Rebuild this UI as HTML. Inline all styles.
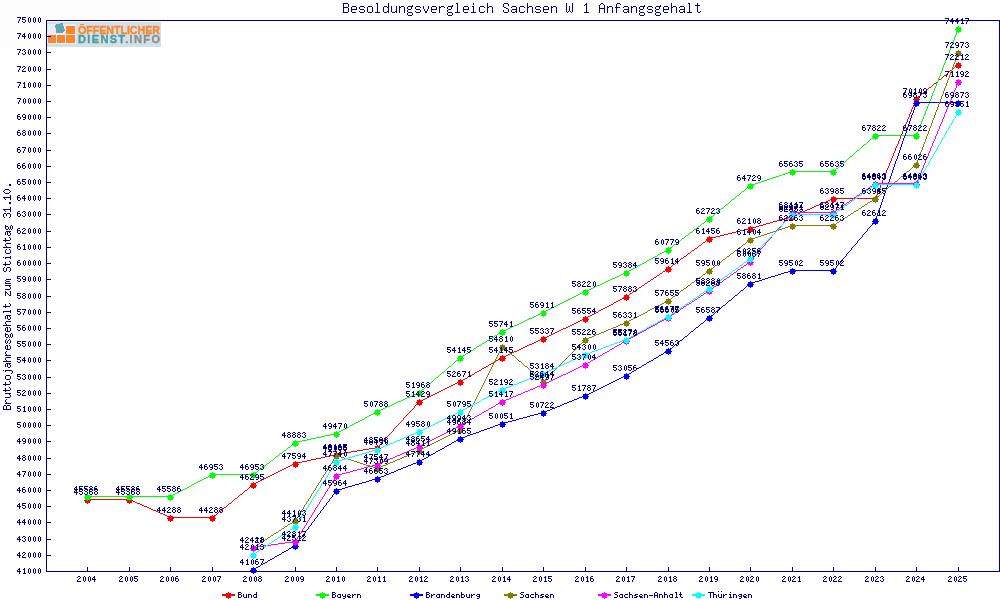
<!DOCTYPE html>
<html><head><meta charset="utf-8"><title>Besoldungsvergleich Sachsen W 1 Anfangsgehalt</title>
<style>html,body{margin:0;padding:0;background:#fff;width:1000px;height:600px;overflow:hidden}svg{display:block;will-change:transform}</style>
</head><body><svg width="1000" height="600" viewBox="0 0 1000 600" shape-rendering="crispEdges"><defs><path id="g0" d="M2 1h1v1h-1zM1 2h1v1h-1zM3 2h1v1h-1zM1 3h1v1h-1zM3 3h1v1h-1zM1 4h1v1h-1zM3 4h1v1h-1zM1 5h1v1h-1zM3 5h1v1h-1zM2 6h1v1h-1z"/><path id="g1" d="M2 1h1v1h-1zM1 2h2v1h-2zM2 3h1v1h-1zM2 4h1v1h-1zM2 5h1v1h-1zM1 6h3v1h-3z"/><path id="g2" d="M1 1h2v1h-2zM0 2h1v1h-1zM3 2h1v1h-1zM2 3h1v1h-1zM1 4h1v1h-1zM0 5h1v1h-1zM0 6h4v1h-4z"/><path id="g3" d="M1 1h2v1h-2zM0 2h1v1h-1zM3 2h1v1h-1zM2 3h1v1h-1zM3 4h1v1h-1zM0 5h1v1h-1zM3 5h1v1h-1zM1 6h2v1h-2z"/><path id="g4" d="M2 1h1v1h-1zM1 2h2v1h-2zM0 3h1v1h-1zM2 3h1v1h-1zM0 4h4v1h-4zM2 5h1v1h-1zM2 6h1v1h-1z"/><path id="g5" d="M0 1h4v1h-4zM0 2h1v1h-1zM0 3h3v1h-3zM3 4h1v1h-1zM0 5h1v1h-1zM3 5h1v1h-1zM1 6h2v1h-2z"/><path id="g6" d="M1 1h2v1h-2zM0 2h1v1h-1zM0 3h3v1h-3zM0 4h1v1h-1zM3 4h1v1h-1zM0 5h1v1h-1zM3 5h1v1h-1zM1 6h2v1h-2z"/><path id="g7" d="M0 1h4v1h-4zM3 2h1v1h-1zM2 3h1v1h-1zM2 4h1v1h-1zM1 5h1v1h-1zM1 6h1v1h-1z"/><path id="g8" d="M1 1h2v1h-2zM0 2h1v1h-1zM3 2h1v1h-1zM1 3h2v1h-2zM0 4h1v1h-1zM3 4h1v1h-1zM0 5h1v1h-1zM3 5h1v1h-1zM1 6h2v1h-2z"/><path id="g9" d="M1 1h2v1h-2zM0 2h1v1h-1zM3 2h1v1h-1zM0 3h1v1h-1zM3 3h1v1h-1zM1 4h3v1h-3zM3 5h1v1h-1zM1 6h2v1h-2z"/><path id="g10" d="M0 1h3v1h-3zM0 2h1v1h-1zM3 2h1v1h-1zM0 3h3v1h-3zM0 4h1v1h-1zM3 4h1v1h-1zM0 5h1v1h-1zM3 5h1v1h-1zM0 6h3v1h-3z"/><path id="g11" d="M1 1h3v1h-3zM0 2h1v1h-1zM1 3h2v1h-2zM3 4h1v1h-1zM3 5h1v1h-1zM0 6h3v1h-3z"/><path id="g12" d="M1 1h2v1h-2zM0 2h1v1h-1zM3 2h1v1h-1zM0 3h1v1h-1zM3 3h1v1h-1zM0 4h4v1h-4zM0 5h1v1h-1zM3 5h1v1h-1zM0 6h1v1h-1zM3 6h1v1h-1z"/><path id="g13" d="M0 1h5v1h-5zM2 2h1v1h-1zM2 3h1v1h-1zM2 4h1v1h-1zM2 5h1v1h-1zM2 6h1v1h-1z"/><path id="g14" d="M0 3h1v1h-1zM3 3h1v1h-1zM0 4h1v1h-1zM3 4h1v1h-1zM0 5h1v1h-1zM3 5h1v1h-1zM1 6h3v1h-3z"/><path id="g15" d="M0 3h3v1h-3zM0 4h1v1h-1zM3 4h1v1h-1zM0 5h1v1h-1zM3 5h1v1h-1zM0 6h1v1h-1zM3 6h1v1h-1z"/><path id="g16" d="M3 1h1v1h-1zM3 2h1v1h-1zM1 3h3v1h-3zM0 4h1v1h-1zM3 4h1v1h-1zM0 5h1v1h-1zM3 5h1v1h-1zM1 6h3v1h-3z"/><path id="g17" d="M1 3h3v1h-3zM0 4h1v1h-1zM3 4h1v1h-1zM0 5h1v1h-1zM3 5h1v1h-1zM1 6h3v1h-3z"/><path id="g18" d="M0 3h1v1h-1zM3 3h1v1h-1zM0 4h1v1h-1zM3 4h1v1h-1zM1 5h3v1h-3zM3 6h1v1h-1zM1 7h2v1h-2z"/><path id="g19" d="M1 3h2v1h-2zM0 4h1v1h-1zM3 4h1v1h-1zM0 5h3v1h-3zM1 6h3v1h-3z"/><path id="g20" d="M0 3h1v1h-1zM2 3h2v1h-2zM0 4h2v1h-2zM0 5h1v1h-1zM0 6h1v1h-1z"/><path id="g21" d="M0 1h1v1h-1zM0 2h1v1h-1zM0 3h3v1h-3zM0 4h1v1h-1zM3 4h1v1h-1zM0 5h1v1h-1zM3 5h1v1h-1zM0 6h3v1h-3z"/><path id="g22" d="M1 3h3v1h-3zM0 4h1v1h-1zM3 4h1v1h-1zM1 5h3v1h-3zM3 6h1v1h-1zM1 7h2v1h-2z"/><path id="g23" d="M1 3h3v1h-3zM0 4h1v1h-1zM0 5h1v1h-1zM1 6h3v1h-3z"/><path id="g24" d="M0 1h1v1h-1zM0 2h1v1h-1zM0 3h3v1h-3zM0 4h1v1h-1zM3 4h1v1h-1zM0 5h1v1h-1zM3 5h1v1h-1zM0 6h1v1h-1zM3 6h1v1h-1z"/><path id="g25" d="M1 3h3v1h-3zM0 4h2v1h-2zM2 5h2v1h-2zM0 6h3v1h-3z"/><path id="g26" d="M0 4h4v1h-4z"/><path id="g27" d="M1 1h2v1h-2zM2 2h1v1h-1zM2 3h1v1h-1zM2 4h1v1h-1zM2 5h1v1h-1zM1 6h3v1h-3z"/><path id="g28" d="M1 1h1v1h-1zM1 2h1v1h-1zM0 3h3v1h-3zM1 4h1v1h-1zM1 5h1v1h-1zM2 6h2v1h-2z"/><path id="g29" d="M0 0h1v1h-1zM3 0h1v1h-1zM0 3h1v1h-1zM3 3h1v1h-1zM0 4h1v1h-1zM3 4h1v1h-1zM0 5h1v1h-1zM3 5h1v1h-1zM1 6h3v1h-3z"/><path id="g30" d="M2 1h1v1h-1zM1 3h2v1h-2zM2 4h1v1h-1zM2 5h1v1h-1zM1 6h3v1h-3z"/><path id="mk" d="M-3 0h7v1h-7zM-2 -2h5v2h-5zM-2 1h5v2h-5zM0 -3h1v1h-1zM0 3h1v1h-1z"/></defs><rect x="0" y="0" width="161" height="47" fill="#fcfdfc"/><rect x="47" y="22" width="114" height="25" fill="#d3e0e6"/><rect x="47" y="24" width="29" height="20" fill="#e6eef1"/><rect x="48" y="35" width="8" height="8" fill="#f7862e"/><rect x="57" y="35" width="8" height="8" fill="#f7862e"/><rect x="66" y="35" width="9" height="8" fill="#f7862e"/><rect x="66" y="26" width="9" height="8" fill="#f7862e"/><path d="M55 24.6 L59 23.9 L62.8 22.8 L63.6 26.5 L64.9 30.6 L63.8 32.3 L60 33 L56.6 33.1 L56.1 29.5 L55 27.6Z" fill="#62a7af"/><g transform="translate(78,34) scale(0.966,1)"><text x="0" y="0" style="font-family:Liberation Sans;font-weight:bold;font-size:11px" fill="#f7862e" stroke="#f7862e" stroke-width="0.35">OFFENTLICHER</text></g><rect x="80" y="24" width="4" height="1" fill="#f7862e"/><g transform="translate(78,43)"><text x="0" y="0" style="font-family:Liberation Sans;font-weight:bold;font-size:11px;letter-spacing:1.35px" stroke-width="0.35"><tspan fill="#4d9aa2" stroke="#4d9aa2">DIENST</tspan><tspan fill="#8b8e92" stroke="#8b8e92">.INFO</tspan></text></g><path d="M46 20h954v1h-954z" fill="#000080"/><path d="M46 571h954v1h-954z" fill="#000080"/><path d="M46 20h1v552h-1z" fill="#000080"/><path d="M999 20h1v552h-1z" fill="#000080"/><path d="M47 571h4v1h-4zM47 555h4v1h-4zM47 539h4v1h-4zM47 522h4v1h-4zM47 506h4v1h-4zM47 490h4v1h-4zM47 474h4v1h-4zM47 458h4v1h-4zM47 441h4v1h-4zM47 425h4v1h-4zM47 409h4v1h-4zM47 393h4v1h-4zM47 377h4v1h-4zM47 360h4v1h-4zM47 344h4v1h-4zM47 328h4v1h-4zM47 312h4v1h-4zM47 296h4v1h-4zM47 279h4v1h-4zM47 263h4v1h-4zM47 247h4v1h-4zM47 231h4v1h-4zM47 214h4v1h-4zM47 198h4v1h-4zM47 182h4v1h-4zM47 166h4v1h-4zM47 150h4v1h-4zM47 133h4v1h-4zM47 117h4v1h-4zM47 101h4v1h-4zM47 85h4v1h-4zM47 69h4v1h-4zM47 52h4v1h-4zM47 36h4v1h-4zM47 20h4v1h-4zM87 567h1v4h-1zM129 567h1v4h-1zM170 567h1v4h-1zM212 567h1v4h-1zM253 567h1v4h-1zM295 567h1v4h-1zM336 567h1v4h-1zM377 567h1v4h-1zM419 567h1v4h-1zM460 567h1v4h-1zM502 567h1v4h-1zM543 567h1v4h-1zM585 567h1v4h-1zM626 567h1v4h-1zM668 567h1v4h-1zM709 567h1v4h-1zM750 567h1v4h-1zM792 567h1v4h-1zM833 567h1v4h-1zM875 567h1v4h-1zM916 567h1v4h-1zM958 567h1v4h-1z" fill="#000080"/><g fill="#000080"><use href="#g4" x="17" y="567"/><use href="#g1" x="22" y="567"/><use href="#g0" x="27" y="567"/><use href="#g0" x="32" y="567"/><use href="#g0" x="37" y="567"/><use href="#g4" x="17" y="551"/><use href="#g2" x="22" y="551"/><use href="#g0" x="27" y="551"/><use href="#g0" x="32" y="551"/><use href="#g0" x="37" y="551"/><use href="#g4" x="17" y="535"/><use href="#g3" x="22" y="535"/><use href="#g0" x="27" y="535"/><use href="#g0" x="32" y="535"/><use href="#g0" x="37" y="535"/><use href="#g4" x="17" y="518"/><use href="#g4" x="22" y="518"/><use href="#g0" x="27" y="518"/><use href="#g0" x="32" y="518"/><use href="#g0" x="37" y="518"/><use href="#g4" x="17" y="502"/><use href="#g5" x="22" y="502"/><use href="#g0" x="27" y="502"/><use href="#g0" x="32" y="502"/><use href="#g0" x="37" y="502"/><use href="#g4" x="17" y="486"/><use href="#g6" x="22" y="486"/><use href="#g0" x="27" y="486"/><use href="#g0" x="32" y="486"/><use href="#g0" x="37" y="486"/><use href="#g4" x="17" y="470"/><use href="#g7" x="22" y="470"/><use href="#g0" x="27" y="470"/><use href="#g0" x="32" y="470"/><use href="#g0" x="37" y="470"/><use href="#g4" x="17" y="454"/><use href="#g8" x="22" y="454"/><use href="#g0" x="27" y="454"/><use href="#g0" x="32" y="454"/><use href="#g0" x="37" y="454"/><use href="#g4" x="17" y="437"/><use href="#g9" x="22" y="437"/><use href="#g0" x="27" y="437"/><use href="#g0" x="32" y="437"/><use href="#g0" x="37" y="437"/><use href="#g5" x="17" y="421"/><use href="#g0" x="22" y="421"/><use href="#g0" x="27" y="421"/><use href="#g0" x="32" y="421"/><use href="#g0" x="37" y="421"/><use href="#g5" x="17" y="405"/><use href="#g1" x="22" y="405"/><use href="#g0" x="27" y="405"/><use href="#g0" x="32" y="405"/><use href="#g0" x="37" y="405"/><use href="#g5" x="17" y="389"/><use href="#g2" x="22" y="389"/><use href="#g0" x="27" y="389"/><use href="#g0" x="32" y="389"/><use href="#g0" x="37" y="389"/><use href="#g5" x="17" y="373"/><use href="#g3" x="22" y="373"/><use href="#g0" x="27" y="373"/><use href="#g0" x="32" y="373"/><use href="#g0" x="37" y="373"/><use href="#g5" x="17" y="356"/><use href="#g4" x="22" y="356"/><use href="#g0" x="27" y="356"/><use href="#g0" x="32" y="356"/><use href="#g0" x="37" y="356"/><use href="#g5" x="17" y="340"/><use href="#g5" x="22" y="340"/><use href="#g0" x="27" y="340"/><use href="#g0" x="32" y="340"/><use href="#g0" x="37" y="340"/><use href="#g5" x="17" y="324"/><use href="#g6" x="22" y="324"/><use href="#g0" x="27" y="324"/><use href="#g0" x="32" y="324"/><use href="#g0" x="37" y="324"/><use href="#g5" x="17" y="308"/><use href="#g7" x="22" y="308"/><use href="#g0" x="27" y="308"/><use href="#g0" x="32" y="308"/><use href="#g0" x="37" y="308"/><use href="#g5" x="17" y="292"/><use href="#g8" x="22" y="292"/><use href="#g0" x="27" y="292"/><use href="#g0" x="32" y="292"/><use href="#g0" x="37" y="292"/><use href="#g5" x="17" y="275"/><use href="#g9" x="22" y="275"/><use href="#g0" x="27" y="275"/><use href="#g0" x="32" y="275"/><use href="#g0" x="37" y="275"/><use href="#g6" x="17" y="259"/><use href="#g0" x="22" y="259"/><use href="#g0" x="27" y="259"/><use href="#g0" x="32" y="259"/><use href="#g0" x="37" y="259"/><use href="#g6" x="17" y="243"/><use href="#g1" x="22" y="243"/><use href="#g0" x="27" y="243"/><use href="#g0" x="32" y="243"/><use href="#g0" x="37" y="243"/><use href="#g6" x="17" y="227"/><use href="#g2" x="22" y="227"/><use href="#g0" x="27" y="227"/><use href="#g0" x="32" y="227"/><use href="#g0" x="37" y="227"/><use href="#g6" x="17" y="210"/><use href="#g3" x="22" y="210"/><use href="#g0" x="27" y="210"/><use href="#g0" x="32" y="210"/><use href="#g0" x="37" y="210"/><use href="#g6" x="17" y="194"/><use href="#g4" x="22" y="194"/><use href="#g0" x="27" y="194"/><use href="#g0" x="32" y="194"/><use href="#g0" x="37" y="194"/><use href="#g6" x="17" y="178"/><use href="#g5" x="22" y="178"/><use href="#g0" x="27" y="178"/><use href="#g0" x="32" y="178"/><use href="#g0" x="37" y="178"/><use href="#g6" x="17" y="162"/><use href="#g6" x="22" y="162"/><use href="#g0" x="27" y="162"/><use href="#g0" x="32" y="162"/><use href="#g0" x="37" y="162"/><use href="#g6" x="17" y="146"/><use href="#g7" x="22" y="146"/><use href="#g0" x="27" y="146"/><use href="#g0" x="32" y="146"/><use href="#g0" x="37" y="146"/><use href="#g6" x="17" y="129"/><use href="#g8" x="22" y="129"/><use href="#g0" x="27" y="129"/><use href="#g0" x="32" y="129"/><use href="#g0" x="37" y="129"/><use href="#g6" x="17" y="113"/><use href="#g9" x="22" y="113"/><use href="#g0" x="27" y="113"/><use href="#g0" x="32" y="113"/><use href="#g0" x="37" y="113"/><use href="#g7" x="17" y="97"/><use href="#g0" x="22" y="97"/><use href="#g0" x="27" y="97"/><use href="#g0" x="32" y="97"/><use href="#g0" x="37" y="97"/><use href="#g7" x="17" y="81"/><use href="#g1" x="22" y="81"/><use href="#g0" x="27" y="81"/><use href="#g0" x="32" y="81"/><use href="#g0" x="37" y="81"/><use href="#g7" x="17" y="65"/><use href="#g2" x="22" y="65"/><use href="#g0" x="27" y="65"/><use href="#g0" x="32" y="65"/><use href="#g0" x="37" y="65"/><use href="#g7" x="17" y="48"/><use href="#g3" x="22" y="48"/><use href="#g0" x="27" y="48"/><use href="#g0" x="32" y="48"/><use href="#g0" x="37" y="48"/><use href="#g7" x="17" y="32"/><use href="#g4" x="22" y="32"/><use href="#g0" x="27" y="32"/><use href="#g0" x="32" y="32"/><use href="#g0" x="37" y="32"/><use href="#g7" x="17" y="16"/><use href="#g5" x="22" y="16"/><use href="#g0" x="27" y="16"/><use href="#g0" x="32" y="16"/><use href="#g0" x="37" y="16"/><use href="#g2" x="77" y="575"/><use href="#g0" x="82" y="575"/><use href="#g0" x="87" y="575"/><use href="#g4" x="92" y="575"/><use href="#g2" x="119" y="575"/><use href="#g0" x="124" y="575"/><use href="#g0" x="129" y="575"/><use href="#g5" x="134" y="575"/><use href="#g2" x="160" y="575"/><use href="#g0" x="165" y="575"/><use href="#g0" x="170" y="575"/><use href="#g6" x="175" y="575"/><use href="#g2" x="202" y="575"/><use href="#g0" x="207" y="575"/><use href="#g0" x="212" y="575"/><use href="#g7" x="217" y="575"/><use href="#g2" x="243" y="575"/><use href="#g0" x="248" y="575"/><use href="#g0" x="253" y="575"/><use href="#g8" x="258" y="575"/><use href="#g2" x="285" y="575"/><use href="#g0" x="290" y="575"/><use href="#g0" x="295" y="575"/><use href="#g9" x="300" y="575"/><use href="#g2" x="326" y="575"/><use href="#g0" x="331" y="575"/><use href="#g1" x="336" y="575"/><use href="#g0" x="341" y="575"/><use href="#g2" x="367" y="575"/><use href="#g0" x="372" y="575"/><use href="#g1" x="377" y="575"/><use href="#g1" x="382" y="575"/><use href="#g2" x="409" y="575"/><use href="#g0" x="414" y="575"/><use href="#g1" x="419" y="575"/><use href="#g2" x="424" y="575"/><use href="#g2" x="450" y="575"/><use href="#g0" x="455" y="575"/><use href="#g1" x="460" y="575"/><use href="#g3" x="465" y="575"/><use href="#g2" x="492" y="575"/><use href="#g0" x="497" y="575"/><use href="#g1" x="502" y="575"/><use href="#g4" x="507" y="575"/><use href="#g2" x="533" y="575"/><use href="#g0" x="538" y="575"/><use href="#g1" x="543" y="575"/><use href="#g5" x="548" y="575"/><use href="#g2" x="575" y="575"/><use href="#g0" x="580" y="575"/><use href="#g1" x="585" y="575"/><use href="#g6" x="590" y="575"/><use href="#g2" x="616" y="575"/><use href="#g0" x="621" y="575"/><use href="#g1" x="626" y="575"/><use href="#g7" x="631" y="575"/><use href="#g2" x="658" y="575"/><use href="#g0" x="663" y="575"/><use href="#g1" x="668" y="575"/><use href="#g8" x="673" y="575"/><use href="#g2" x="699" y="575"/><use href="#g0" x="704" y="575"/><use href="#g1" x="709" y="575"/><use href="#g9" x="714" y="575"/><use href="#g2" x="740" y="575"/><use href="#g0" x="745" y="575"/><use href="#g2" x="750" y="575"/><use href="#g0" x="755" y="575"/><use href="#g2" x="782" y="575"/><use href="#g0" x="787" y="575"/><use href="#g2" x="792" y="575"/><use href="#g1" x="797" y="575"/><use href="#g2" x="823" y="575"/><use href="#g0" x="828" y="575"/><use href="#g2" x="833" y="575"/><use href="#g2" x="838" y="575"/><use href="#g2" x="865" y="575"/><use href="#g0" x="870" y="575"/><use href="#g2" x="875" y="575"/><use href="#g3" x="880" y="575"/><use href="#g2" x="906" y="575"/><use href="#g0" x="911" y="575"/><use href="#g2" x="916" y="575"/><use href="#g4" x="921" y="575"/><use href="#g2" x="948" y="575"/><use href="#g0" x="953" y="575"/><use href="#g2" x="958" y="575"/><use href="#g5" x="963" y="575"/></g><path d="M958 64h1v1h-1zM957 65h1v1h-1zM955 66h2v1h-2zM954 67h1v1h-1zM953 68h1v1h-1zM952 69h1v1h-1zM950 70h2v1h-2zM949 71h1v1h-1zM948 72h1v1h-1zM947 73h1v1h-1zM946 74h1v1h-1zM944 75h2v1h-2zM943 76h1v1h-1zM942 77h1v1h-1zM941 78h1v1h-1zM939 79h2v1h-2zM938 80h1v1h-1zM937 81h1v1h-1zM936 82h1v1h-1zM934 83h2v1h-2zM933 84h1v1h-1zM932 85h1v1h-1zM931 86h1v1h-1zM929 87h2v1h-2zM928 88h1v1h-1zM927 89h1v1h-1zM926 90h1v1h-1zM925 91h1v1h-1zM923 92h2v1h-2zM922 93h1v1h-1zM921 94h1v1h-1zM920 95h1v1h-1zM918 96h2v1h-2zM917 97h1v1h-1zM916 98h1v1h-1zM916 99h1v1h-1zM915 100h1v1h-1zM915 101h1v1h-1zM914 102h1v1h-1zM914 103h1v1h-1zM914 104h1v1h-1zM913 105h1v1h-1zM913 106h1v1h-1zM912 107h1v1h-1zM912 108h1v1h-1zM911 109h1v1h-1zM911 110h1v1h-1zM911 111h1v1h-1zM910 112h1v1h-1zM910 113h1v1h-1zM909 114h1v1h-1zM909 115h1v1h-1zM909 116h1v1h-1zM908 117h1v1h-1zM908 118h1v1h-1zM907 119h1v1h-1zM907 120h1v1h-1zM907 121h1v1h-1zM906 122h1v1h-1zM906 123h1v1h-1zM905 124h1v1h-1zM905 125h1v1h-1zM905 126h1v1h-1zM904 127h1v1h-1zM904 128h1v1h-1zM903 129h1v1h-1zM903 130h1v1h-1zM902 131h1v1h-1zM902 132h1v1h-1zM902 133h1v1h-1zM901 134h1v1h-1zM901 135h1v1h-1zM900 136h1v1h-1zM900 137h1v1h-1zM900 138h1v1h-1zM899 139h1v1h-1zM899 140h1v1h-1zM898 141h1v1h-1zM898 142h1v1h-1zM898 143h1v1h-1zM897 144h1v1h-1zM897 145h1v1h-1zM896 146h1v1h-1zM896 147h1v1h-1zM895 148h1v1h-1zM895 149h1v1h-1zM895 150h1v1h-1zM894 151h1v1h-1zM894 152h1v1h-1zM893 153h1v1h-1zM893 154h1v1h-1zM893 155h1v1h-1zM892 156h1v1h-1zM892 157h1v1h-1zM891 158h1v1h-1zM891 159h1v1h-1zM891 160h1v1h-1zM890 161h1v1h-1zM890 162h1v1h-1zM889 163h1v1h-1zM889 164h1v1h-1zM889 165h1v1h-1zM888 166h1v1h-1zM888 167h1v1h-1zM887 168h1v1h-1zM887 169h1v1h-1zM886 170h1v1h-1zM886 171h1v1h-1zM886 172h1v1h-1zM885 173h1v1h-1zM885 174h1v1h-1zM884 175h1v1h-1zM884 176h1v1h-1zM884 177h1v1h-1zM883 178h1v1h-1zM883 179h1v1h-1zM882 180h1v1h-1zM882 181h1v1h-1zM882 182h1v1h-1zM881 183h1v1h-1zM881 184h1v1h-1zM880 185h1v1h-1zM880 186h1v1h-1zM880 187h1v1h-1zM879 188h1v1h-1zM879 189h1v1h-1zM878 190h1v1h-1zM878 191h1v1h-1zM877 192h1v1h-1zM877 193h1v1h-1zM877 194h1v1h-1zM876 195h1v1h-1zM876 196h1v1h-1zM875 197h1v1h-1zM832 198h44v1h-44zM830 199h2v1h-2zM828 200h2v1h-2zM826 201h2v1h-2zM823 202h3v1h-3zM821 203h2v1h-2zM819 204h2v1h-2zM816 205h3v1h-3zM814 206h2v1h-2zM812 207h2v1h-2zM810 208h2v1h-2zM807 209h3v1h-3zM805 210h2v1h-2zM803 211h2v1h-2zM800 212h3v1h-3zM798 213h2v1h-2zM796 214h2v1h-2zM794 215h2v1h-2zM791 216h3v1h-3zM787 217h4v1h-4zM784 218h3v1h-3zM780 219h4v1h-4zM777 220h3v1h-3zM773 221h4v1h-4zM770 222h3v1h-3zM766 223h4v1h-4zM763 224h3v1h-3zM759 225h4v1h-4zM756 226h3v1h-3zM752 227h4v1h-4zM748 228h4v1h-4zM744 229h4v1h-4zM740 230h4v1h-4zM736 231h4v1h-4zM732 232h4v1h-4zM728 233h4v1h-4zM724 234h4v1h-4zM720 235h4v1h-4zM716 236h4v1h-4zM712 237h4v1h-4zM709 238h3v1h-3zM707 239h2v1h-2zM706 240h1v1h-1zM705 241h1v1h-1zM703 242h2v1h-2zM702 243h1v1h-1zM701 244h1v1h-1zM699 245h2v1h-2zM698 246h1v1h-1zM697 247h1v1h-1zM695 248h2v1h-2zM694 249h1v1h-1zM692 250h2v1h-2zM691 251h1v1h-1zM690 252h1v1h-1zM688 253h2v1h-2zM687 254h1v1h-1zM686 255h1v1h-1zM684 256h2v1h-2zM683 257h1v1h-1zM681 258h2v1h-2zM680 259h1v1h-1zM679 260h1v1h-1zM677 261h2v1h-2zM676 262h1v1h-1zM675 263h1v1h-1zM673 264h2v1h-2zM672 265h1v1h-1zM671 266h1v1h-1zM669 267h2v1h-2zM668 268h1v1h-1zM666 269h2v1h-2zM665 270h1v1h-1zM663 271h2v1h-2zM662 272h1v1h-1zM660 273h2v1h-2zM659 274h1v1h-1zM657 275h2v1h-2zM656 276h1v1h-1zM654 277h2v1h-2zM653 278h1v1h-1zM651 279h2v1h-2zM650 280h1v1h-1zM648 281h2v1h-2zM647 282h1v1h-1zM645 283h2v1h-2zM644 284h1v1h-1zM642 285h2v1h-2zM641 286h1v1h-1zM639 287h2v1h-2zM638 288h1v1h-1zM636 289h2v1h-2zM635 290h1v1h-1zM633 291h2v1h-2zM632 292h1v1h-1zM630 293h2v1h-2zM629 294h1v1h-1zM627 295h2v1h-2zM626 296h1v1h-1zM624 297h2v1h-2zM622 298h2v1h-2zM620 299h2v1h-2zM618 300h2v1h-2zM616 301h2v1h-2zM614 302h2v1h-2zM613 303h1v1h-1zM611 304h2v1h-2zM609 305h2v1h-2zM607 306h2v1h-2zM605 307h2v1h-2zM603 308h2v1h-2zM601 309h2v1h-2zM599 310h2v1h-2zM598 311h1v1h-1zM596 312h2v1h-2zM594 313h2v1h-2zM592 314h2v1h-2zM590 315h2v1h-2zM588 316h2v1h-2zM586 317h2v1h-2zM584 318h2v1h-2zM582 319h2v1h-2zM580 320h2v1h-2zM578 321h2v1h-2zM576 322h2v1h-2zM574 323h2v1h-2zM572 324h2v1h-2zM570 325h2v1h-2zM568 326h2v1h-2zM566 327h2v1h-2zM563 328h3v1h-3zM561 329h2v1h-2zM559 330h2v1h-2zM557 331h2v1h-2zM555 332h2v1h-2zM553 333h2v1h-2zM551 334h2v1h-2zM549 335h2v1h-2zM547 336h2v1h-2zM545 337h2v1h-2zM542 338h3v1h-3zM540 339h2v1h-2zM538 340h2v1h-2zM536 341h2v1h-2zM534 342h2v1h-2zM532 343h2v1h-2zM529 344h3v1h-3zM527 345h2v1h-2zM525 346h2v1h-2zM523 347h2v1h-2zM521 348h2v1h-2zM519 349h2v1h-2zM517 350h2v1h-2zM514 351h3v1h-3zM512 352h2v1h-2zM510 353h2v1h-2zM508 354h2v1h-2zM506 355h2v1h-2zM504 356h2v1h-2zM502 357h2v1h-2zM500 358h2v1h-2zM498 359h2v1h-2zM496 360h2v1h-2zM495 361h1v1h-1zM493 362h2v1h-2zM491 363h2v1h-2zM489 364h2v1h-2zM488 365h1v1h-1zM486 366h2v1h-2zM484 367h2v1h-2zM482 368h2v1h-2zM481 369h1v1h-1zM479 370h2v1h-2zM477 371h2v1h-2zM475 372h2v1h-2zM474 373h1v1h-1zM472 374h2v1h-2zM470 375h2v1h-2zM468 376h2v1h-2zM467 377h1v1h-1zM465 378h2v1h-2zM463 379h2v1h-2zM461 380h2v1h-2zM459 381h2v1h-2zM457 382h2v1h-2zM455 383h2v1h-2zM453 384h2v1h-2zM451 385h2v1h-2zM449 386h2v1h-2zM447 387h2v1h-2zM445 388h2v1h-2zM443 389h2v1h-2zM441 390h2v1h-2zM439 391h2v1h-2zM437 392h2v1h-2zM435 393h2v1h-2zM433 394h2v1h-2zM431 395h2v1h-2zM429 396h2v1h-2zM427 397h2v1h-2zM425 398h2v1h-2zM423 399h2v1h-2zM421 400h2v1h-2zM419 401h2v1h-2zM418 402h1v1h-1zM417 403h1v1h-1zM416 404h1v1h-1zM415 405h1v1h-1zM414 406h1v1h-1zM414 407h1v1h-1zM413 408h1v1h-1zM412 409h1v1h-1zM411 410h1v1h-1zM410 411h1v1h-1zM409 412h1v1h-1zM408 413h1v1h-1zM407 414h1v1h-1zM406 415h1v1h-1zM405 416h1v1h-1zM404 417h1v1h-1zM403 418h1v1h-1zM403 419h1v1h-1zM402 420h1v1h-1zM401 421h1v1h-1zM400 422h1v1h-1zM399 423h1v1h-1zM398 424h1v1h-1zM397 425h1v1h-1zM396 426h1v1h-1zM395 427h1v1h-1zM394 428h1v1h-1zM393 429h1v1h-1zM393 430h1v1h-1zM392 431h1v1h-1zM391 432h1v1h-1zM390 433h1v1h-1zM389 434h1v1h-1zM388 435h1v1h-1zM387 436h1v1h-1zM386 437h1v1h-1zM385 438h1v1h-1zM384 439h1v1h-1zM383 440h1v1h-1zM382 441h1v1h-1zM382 442h1v1h-1zM381 443h1v1h-1zM380 444h1v1h-1zM379 445h1v1h-1zM378 446h1v1h-1zM375 447h3v1h-3zM369 448h6v1h-6zM363 449h6v1h-6zM357 450h6v1h-6zM351 451h6v1h-6zM345 452h6v1h-6zM339 453h6v1h-6zM334 454h5v1h-5zM330 455h4v1h-4zM325 456h5v1h-5zM321 457h4v1h-4zM316 458h5v1h-5zM311 459h5v1h-5zM307 460h4v1h-4zM302 461h5v1h-5zM298 462h4v1h-4zM294 463h4v1h-4zM292 464h2v1h-2zM290 465h2v1h-2zM288 466h2v1h-2zM286 467h2v1h-2zM284 468h2v1h-2zM282 469h2v1h-2zM280 470h2v1h-2zM278 471h2v1h-2zM276 472h2v1h-2zM274 473h2v1h-2zM272 474h2v1h-2zM270 475h2v1h-2zM268 476h2v1h-2zM266 477h2v1h-2zM264 478h2v1h-2zM262 479h2v1h-2zM260 480h2v1h-2zM258 481h2v1h-2zM256 482h2v1h-2zM254 483h2v1h-2zM253 484h1v1h-1zM252 485h1v1h-1zM250 486h2v1h-2zM249 487h1v1h-1zM248 488h1v1h-1zM247 489h1v1h-1zM245 490h2v1h-2zM244 491h1v1h-1zM243 492h1v1h-1zM242 493h1v1h-1zM240 494h2v1h-2zM239 495h1v1h-1zM238 496h1v1h-1zM237 497h1v1h-1zM235 498h2v1h-2zM87 499h44v1h-44zM234 499h1v1h-1zM131 500h2v1h-2zM233 500h1v1h-1zM133 501h2v1h-2zM232 501h1v1h-1zM135 502h2v1h-2zM231 502h1v1h-1zM137 503h3v1h-3zM229 503h2v1h-2zM140 504h2v1h-2zM228 504h1v1h-1zM142 505h2v1h-2zM227 505h1v1h-1zM144 506h3v1h-3zM226 506h1v1h-1zM147 507h2v1h-2zM224 507h2v1h-2zM149 508h2v1h-2zM223 508h1v1h-1zM151 509h2v1h-2zM222 509h1v1h-1zM153 510h3v1h-3zM221 510h1v1h-1zM156 511h2v1h-2zM219 511h2v1h-2zM158 512h2v1h-2zM218 512h1v1h-1zM160 513h3v1h-3zM217 513h1v1h-1zM163 514h2v1h-2zM216 514h1v1h-1zM165 515h2v1h-2zM214 515h2v1h-2zM167 516h2v1h-2zM213 516h1v1h-1zM169 517h44v1h-44z" fill="#ff0000"/><path d="M958 28h1v1h-1zM958 29h1v1h-1zM957 30h1v1h-1zM957 31h1v1h-1zM956 32h1v1h-1zM956 33h1v1h-1zM956 34h1v1h-1zM955 35h1v1h-1zM955 36h1v1h-1zM954 37h1v1h-1zM954 38h1v1h-1zM954 39h1v1h-1zM953 40h1v1h-1zM953 41h1v1h-1zM953 42h1v1h-1zM952 43h1v1h-1zM952 44h1v1h-1zM951 45h1v1h-1zM951 46h1v1h-1zM951 47h1v1h-1zM950 48h1v1h-1zM950 49h1v1h-1zM949 50h1v1h-1zM949 51h1v1h-1zM949 52h1v1h-1zM948 53h1v1h-1zM948 54h1v1h-1zM947 55h1v1h-1zM947 56h1v1h-1zM947 57h1v1h-1zM946 58h1v1h-1zM946 59h1v1h-1zM945 60h1v1h-1zM945 61h1v1h-1zM945 62h1v1h-1zM944 63h1v1h-1zM944 64h1v1h-1zM943 65h1v1h-1zM943 66h1v1h-1zM943 67h1v1h-1zM942 68h1v1h-1zM942 69h1v1h-1zM942 70h1v1h-1zM941 71h1v1h-1zM941 72h1v1h-1zM940 73h1v1h-1zM940 74h1v1h-1zM940 75h1v1h-1zM939 76h1v1h-1zM939 77h1v1h-1zM938 78h1v1h-1zM938 79h1v1h-1zM938 80h1v1h-1zM937 81h1v1h-1zM937 82h1v1h-1zM936 83h1v1h-1zM936 84h1v1h-1zM936 85h1v1h-1zM935 86h1v1h-1zM935 87h1v1h-1zM934 88h1v1h-1zM934 89h1v1h-1zM934 90h1v1h-1zM933 91h1v1h-1zM933 92h1v1h-1zM932 93h1v1h-1zM932 94h1v1h-1zM932 95h1v1h-1zM931 96h1v1h-1zM931 97h1v1h-1zM931 98h1v1h-1zM930 99h1v1h-1zM930 100h1v1h-1zM929 101h1v1h-1zM929 102h1v1h-1zM929 103h1v1h-1zM928 104h1v1h-1zM928 105h1v1h-1zM927 106h1v1h-1zM927 107h1v1h-1zM927 108h1v1h-1zM926 109h1v1h-1zM926 110h1v1h-1zM925 111h1v1h-1zM925 112h1v1h-1zM925 113h1v1h-1zM924 114h1v1h-1zM924 115h1v1h-1zM923 116h1v1h-1zM923 117h1v1h-1zM923 118h1v1h-1zM922 119h1v1h-1zM922 120h1v1h-1zM921 121h1v1h-1zM921 122h1v1h-1zM921 123h1v1h-1zM920 124h1v1h-1zM920 125h1v1h-1zM920 126h1v1h-1zM919 127h1v1h-1zM919 128h1v1h-1zM918 129h1v1h-1zM918 130h1v1h-1zM918 131h1v1h-1zM917 132h1v1h-1zM917 133h1v1h-1zM916 134h1v1h-1zM875 135h42v1h-42zM874 136h1v1h-1zM873 137h1v1h-1zM871 138h2v1h-2zM870 139h1v1h-1zM869 140h1v1h-1zM868 141h1v1h-1zM867 142h1v1h-1zM866 143h1v1h-1zM864 144h2v1h-2zM863 145h1v1h-1zM862 146h1v1h-1zM861 147h1v1h-1zM860 148h1v1h-1zM859 149h1v1h-1zM857 150h2v1h-2zM856 151h1v1h-1zM855 152h1v1h-1zM854 153h1v1h-1zM853 154h1v1h-1zM852 155h1v1h-1zM850 156h2v1h-2zM849 157h1v1h-1zM848 158h1v1h-1zM847 159h1v1h-1zM846 160h1v1h-1zM845 161h1v1h-1zM843 162h2v1h-2zM842 163h1v1h-1zM841 164h1v1h-1zM840 165h1v1h-1zM839 166h1v1h-1zM838 167h1v1h-1zM836 168h2v1h-2zM835 169h1v1h-1zM834 170h1v1h-1zM791 171h43v1h-43zM788 172h3v1h-3zM785 173h3v1h-3zM782 174h3v1h-3zM779 175h3v1h-3zM776 176h3v1h-3zM773 177h3v1h-3zM770 178h3v1h-3zM767 179h3v1h-3zM764 180h3v1h-3zM761 181h3v1h-3zM758 182h3v1h-3zM755 183h3v1h-3zM752 184h3v1h-3zM750 185h2v1h-2zM749 186h1v1h-1zM747 187h2v1h-2zM746 188h1v1h-1zM745 189h1v1h-1zM744 190h1v1h-1zM742 191h2v1h-2zM741 192h1v1h-1zM740 193h1v1h-1zM739 194h1v1h-1zM737 195h2v1h-2zM736 196h1v1h-1zM735 197h1v1h-1zM734 198h1v1h-1zM732 199h2v1h-2zM731 200h1v1h-1zM730 201h1v1h-1zM729 202h1v1h-1zM728 203h1v1h-1zM726 204h2v1h-2zM725 205h1v1h-1zM724 206h1v1h-1zM723 207h1v1h-1zM721 208h2v1h-2zM720 209h1v1h-1zM719 210h1v1h-1zM718 211h1v1h-1zM716 212h2v1h-2zM715 213h1v1h-1zM714 214h1v1h-1zM713 215h1v1h-1zM711 216h2v1h-2zM710 217h1v1h-1zM709 218h1v1h-1zM708 219h1v1h-1zM706 220h2v1h-2zM705 221h1v1h-1zM704 222h1v1h-1zM702 223h2v1h-2zM701 224h1v1h-1zM700 225h1v1h-1zM698 226h2v1h-2zM697 227h1v1h-1zM696 228h1v1h-1zM694 229h2v1h-2zM693 230h1v1h-1zM692 231h1v1h-1zM690 232h2v1h-2zM689 233h1v1h-1zM688 234h1v1h-1zM686 235h2v1h-2zM685 236h1v1h-1zM684 237h1v1h-1zM682 238h2v1h-2zM681 239h1v1h-1zM680 240h1v1h-1zM678 241h2v1h-2zM677 242h1v1h-1zM676 243h1v1h-1zM674 244h2v1h-2zM673 245h1v1h-1zM672 246h1v1h-1zM670 247h2v1h-2zM669 248h1v1h-1zM668 249h1v1h-1zM666 250h2v1h-2zM664 251h2v1h-2zM662 252h2v1h-2zM660 253h2v1h-2zM658 254h2v1h-2zM657 255h1v1h-1zM655 256h2v1h-2zM653 257h2v1h-2zM651 258h2v1h-2zM649 259h2v1h-2zM647 260h2v1h-2zM646 261h1v1h-1zM644 262h2v1h-2zM642 263h2v1h-2zM640 264h2v1h-2zM638 265h2v1h-2zM637 266h1v1h-1zM635 267h2v1h-2zM633 268h2v1h-2zM631 269h2v1h-2zM629 270h2v1h-2zM627 271h2v1h-2zM625 272h2v1h-2zM623 273h2v1h-2zM621 274h2v1h-2zM619 275h2v1h-2zM617 276h2v1h-2zM615 277h2v1h-2zM612 278h3v1h-3zM610 279h2v1h-2zM608 280h2v1h-2zM606 281h2v1h-2zM604 282h2v1h-2zM602 283h2v1h-2zM600 284h2v1h-2zM597 285h3v1h-3zM595 286h2v1h-2zM593 287h2v1h-2zM591 288h2v1h-2zM589 289h2v1h-2zM587 290h2v1h-2zM584 291h3v1h-3zM582 292h2v1h-2zM580 293h2v1h-2zM578 294h2v1h-2zM576 295h2v1h-2zM574 296h2v1h-2zM572 297h2v1h-2zM570 298h2v1h-2zM568 299h2v1h-2zM566 300h2v1h-2zM564 301h2v1h-2zM562 302h2v1h-2zM560 303h2v1h-2zM558 304h2v1h-2zM556 305h2v1h-2zM554 306h2v1h-2zM552 307h2v1h-2zM550 308h2v1h-2zM548 309h2v1h-2zM546 310h2v1h-2zM544 311h2v1h-2zM542 312h2v1h-2zM540 313h2v1h-2zM538 314h2v1h-2zM536 315h2v1h-2zM534 316h2v1h-2zM532 317h2v1h-2zM529 318h3v1h-3zM527 319h2v1h-2zM525 320h2v1h-2zM523 321h2v1h-2zM521 322h2v1h-2zM519 323h2v1h-2zM517 324h2v1h-2zM514 325h3v1h-3zM512 326h2v1h-2zM510 327h2v1h-2zM508 328h2v1h-2zM506 329h2v1h-2zM504 330h2v1h-2zM502 331h2v1h-2zM500 332h2v1h-2zM498 333h2v1h-2zM497 334h1v1h-1zM495 335h2v1h-2zM494 336h1v1h-1zM492 337h2v1h-2zM490 338h2v1h-2zM489 339h1v1h-1zM487 340h2v1h-2zM486 341h1v1h-1zM484 342h2v1h-2zM482 343h2v1h-2zM481 344h1v1h-1zM479 345h2v1h-2zM477 346h2v1h-2zM476 347h1v1h-1zM474 348h2v1h-2zM473 349h1v1h-1zM471 350h2v1h-2zM469 351h2v1h-2zM468 352h1v1h-1zM466 353h2v1h-2zM465 354h1v1h-1zM463 355h2v1h-2zM461 356h2v1h-2zM460 357h1v1h-1zM459 358h1v1h-1zM458 359h1v1h-1zM456 360h2v1h-2zM455 361h1v1h-1zM454 362h1v1h-1zM453 363h1v1h-1zM452 364h1v1h-1zM451 365h1v1h-1zM449 366h2v1h-2zM448 367h1v1h-1zM447 368h1v1h-1zM446 369h1v1h-1zM445 370h1v1h-1zM444 371h1v1h-1zM442 372h2v1h-2zM441 373h1v1h-1zM440 374h1v1h-1zM439 375h1v1h-1zM438 376h1v1h-1zM436 377h2v1h-2zM435 378h1v1h-1zM434 379h1v1h-1zM433 380h1v1h-1zM432 381h1v1h-1zM431 382h1v1h-1zM429 383h2v1h-2zM428 384h1v1h-1zM427 385h1v1h-1zM426 386h1v1h-1zM425 387h1v1h-1zM424 388h1v1h-1zM422 389h2v1h-2zM421 390h1v1h-1zM420 391h1v1h-1zM418 392h2v1h-2zM416 393h2v1h-2zM414 394h2v1h-2zM412 395h2v1h-2zM410 396h2v1h-2zM407 397h3v1h-3zM405 398h2v1h-2zM403 399h2v1h-2zM401 400h2v1h-2zM398 401h3v1h-3zM396 402h2v1h-2zM394 403h2v1h-2zM392 404h2v1h-2zM390 405h2v1h-2zM387 406h3v1h-3zM385 407h2v1h-2zM383 408h2v1h-2zM381 409h2v1h-2zM379 410h2v1h-2zM377 411h2v1h-2zM375 412h2v1h-2zM373 413h2v1h-2zM371 414h2v1h-2zM369 415h2v1h-2zM367 416h2v1h-2zM365 417h2v1h-2zM364 418h1v1h-1zM362 419h2v1h-2zM360 420h2v1h-2zM358 421h2v1h-2zM356 422h2v1h-2zM354 423h2v1h-2zM352 424h2v1h-2zM350 425h2v1h-2zM349 426h1v1h-1zM347 427h2v1h-2zM345 428h2v1h-2zM343 429h2v1h-2zM341 430h2v1h-2zM339 431h2v1h-2zM337 432h2v1h-2zM334 433h3v1h-3zM330 434h4v1h-4zM325 435h5v1h-5zM321 436h4v1h-4zM316 437h5v1h-5zM311 438h5v1h-5zM307 439h4v1h-4zM302 440h5v1h-5zM298 441h4v1h-4zM295 442h3v1h-3zM294 443h1v1h-1zM292 444h2v1h-2zM291 445h1v1h-1zM290 446h1v1h-1zM288 447h2v1h-2zM287 448h1v1h-1zM286 449h1v1h-1zM284 450h2v1h-2zM283 451h1v1h-1zM282 452h1v1h-1zM280 453h2v1h-2zM279 454h1v1h-1zM278 455h1v1h-1zM276 456h2v1h-2zM275 457h1v1h-1zM274 458h1v1h-1zM273 459h1v1h-1zM271 460h2v1h-2zM270 461h1v1h-1zM269 462h1v1h-1zM267 463h2v1h-2zM266 464h1v1h-1zM265 465h1v1h-1zM263 466h2v1h-2zM262 467h1v1h-1zM261 468h1v1h-1zM259 469h2v1h-2zM258 470h1v1h-1zM257 471h1v1h-1zM255 472h2v1h-2zM254 473h1v1h-1zM212 474h42v1h-42zM210 475h2v1h-2zM208 476h2v1h-2zM206 477h2v1h-2zM204 478h2v1h-2zM202 479h2v1h-2zM200 480h2v1h-2zM198 481h2v1h-2zM196 482h2v1h-2zM194 483h2v1h-2zM192 484h2v1h-2zM191 485h1v1h-1zM189 486h2v1h-2zM187 487h2v1h-2zM185 488h2v1h-2zM183 489h2v1h-2zM181 490h2v1h-2zM179 491h2v1h-2zM177 492h2v1h-2zM175 493h2v1h-2zM173 494h2v1h-2zM171 495h2v1h-2zM87 496h84v1h-84z" fill="#00ff00"/><path d="M916 102h43v1h-43zM916 103h1v1h-1zM915 104h1v1h-1zM915 105h1v1h-1zM915 106h1v1h-1zM914 107h1v1h-1zM914 108h1v1h-1zM914 109h1v1h-1zM913 110h1v1h-1zM913 111h1v1h-1zM913 112h1v1h-1zM912 113h1v1h-1zM912 114h1v1h-1zM911 115h1v1h-1zM911 116h1v1h-1zM911 117h1v1h-1zM910 118h1v1h-1zM910 119h1v1h-1zM910 120h1v1h-1zM909 121h1v1h-1zM909 122h1v1h-1zM909 123h1v1h-1zM908 124h1v1h-1zM908 125h1v1h-1zM908 126h1v1h-1zM907 127h1v1h-1zM907 128h1v1h-1zM907 129h1v1h-1zM906 130h1v1h-1zM906 131h1v1h-1zM906 132h1v1h-1zM905 133h1v1h-1zM905 134h1v1h-1zM905 135h1v1h-1zM904 136h1v1h-1zM904 137h1v1h-1zM903 138h1v1h-1zM903 139h1v1h-1zM903 140h1v1h-1zM902 141h1v1h-1zM902 142h1v1h-1zM902 143h1v1h-1zM901 144h1v1h-1zM901 145h1v1h-1zM901 146h1v1h-1zM900 147h1v1h-1zM900 148h1v1h-1zM900 149h1v1h-1zM899 150h1v1h-1zM899 151h1v1h-1zM899 152h1v1h-1zM898 153h1v1h-1zM898 154h1v1h-1zM898 155h1v1h-1zM897 156h1v1h-1zM897 157h1v1h-1zM897 158h1v1h-1zM896 159h1v1h-1zM896 160h1v1h-1zM895 161h1v1h-1zM895 162h1v1h-1zM895 163h1v1h-1zM894 164h1v1h-1zM894 165h1v1h-1zM894 166h1v1h-1zM893 167h1v1h-1zM893 168h1v1h-1zM893 169h1v1h-1zM892 170h1v1h-1zM892 171h1v1h-1zM892 172h1v1h-1zM891 173h1v1h-1zM891 174h1v1h-1zM891 175h1v1h-1zM890 176h1v1h-1zM890 177h1v1h-1zM890 178h1v1h-1zM889 179h1v1h-1zM889 180h1v1h-1zM889 181h1v1h-1zM888 182h1v1h-1zM888 183h1v1h-1zM888 184h1v1h-1zM887 185h1v1h-1zM887 186h1v1h-1zM886 187h1v1h-1zM886 188h1v1h-1zM886 189h1v1h-1zM885 190h1v1h-1zM885 191h1v1h-1zM885 192h1v1h-1zM884 193h1v1h-1zM884 194h1v1h-1zM884 195h1v1h-1zM883 196h1v1h-1zM883 197h1v1h-1zM883 198h1v1h-1zM882 199h1v1h-1zM882 200h1v1h-1zM882 201h1v1h-1zM881 202h1v1h-1zM881 203h1v1h-1zM881 204h1v1h-1zM880 205h1v1h-1zM880 206h1v1h-1zM880 207h1v1h-1zM879 208h1v1h-1zM879 209h1v1h-1zM878 210h1v1h-1zM878 211h1v1h-1zM878 212h1v1h-1zM877 213h1v1h-1zM877 214h1v1h-1zM877 215h1v1h-1zM876 216h1v1h-1zM876 217h1v1h-1zM876 218h1v1h-1zM875 219h1v1h-1zM875 220h1v1h-1zM874 221h1v1h-1zM873 222h1v1h-1zM872 223h1v1h-1zM872 224h1v1h-1zM871 225h1v1h-1zM870 226h1v1h-1zM869 227h1v1h-1zM868 228h1v1h-1zM867 229h1v1h-1zM867 230h1v1h-1zM866 231h1v1h-1zM865 232h1v1h-1zM864 233h1v1h-1zM863 234h1v1h-1zM862 235h1v1h-1zM862 236h1v1h-1zM861 237h1v1h-1zM860 238h1v1h-1zM859 239h1v1h-1zM858 240h1v1h-1zM857 241h1v1h-1zM857 242h1v1h-1zM856 243h1v1h-1zM855 244h1v1h-1zM854 245h1v1h-1zM853 246h1v1h-1zM852 247h1v1h-1zM851 248h1v1h-1zM851 249h1v1h-1zM850 250h1v1h-1zM849 251h1v1h-1zM848 252h1v1h-1zM847 253h1v1h-1zM846 254h1v1h-1zM846 255h1v1h-1zM845 256h1v1h-1zM844 257h1v1h-1zM843 258h1v1h-1zM842 259h1v1h-1zM841 260h1v1h-1zM841 261h1v1h-1zM840 262h1v1h-1zM839 263h1v1h-1zM838 264h1v1h-1zM837 265h1v1h-1zM836 266h1v1h-1zM836 267h1v1h-1zM835 268h1v1h-1zM834 269h1v1h-1zM791 270h43v1h-43zM788 271h3v1h-3zM784 272h4v1h-4zM781 273h3v1h-3zM778 274h3v1h-3zM775 275h3v1h-3zM771 276h4v1h-4zM768 277h3v1h-3zM765 278h3v1h-3zM762 279h3v1h-3zM759 280h3v1h-3zM755 281h4v1h-4zM752 282h3v1h-3zM750 283h2v1h-2zM749 284h1v1h-1zM747 285h2v1h-2zM746 286h1v1h-1zM745 287h1v1h-1zM744 288h1v1h-1zM743 289h1v1h-1zM741 290h2v1h-2zM740 291h1v1h-1zM739 292h1v1h-1zM738 293h1v1h-1zM737 294h1v1h-1zM735 295h2v1h-2zM734 296h1v1h-1zM733 297h1v1h-1zM732 298h1v1h-1zM731 299h1v1h-1zM729 300h2v1h-2zM728 301h1v1h-1zM727 302h1v1h-1zM726 303h1v1h-1zM725 304h1v1h-1zM723 305h2v1h-2zM722 306h1v1h-1zM721 307h1v1h-1zM720 308h1v1h-1zM719 309h1v1h-1zM717 310h2v1h-2zM716 311h1v1h-1zM715 312h1v1h-1zM714 313h1v1h-1zM713 314h1v1h-1zM711 315h2v1h-2zM710 316h1v1h-1zM709 317h1v1h-1zM708 318h1v1h-1zM706 319h2v1h-2zM705 320h1v1h-1zM704 321h1v1h-1zM703 322h1v1h-1zM701 323h2v1h-2zM700 324h1v1h-1zM699 325h1v1h-1zM698 326h1v1h-1zM696 327h2v1h-2zM695 328h1v1h-1zM694 329h1v1h-1zM693 330h1v1h-1zM691 331h2v1h-2zM690 332h1v1h-1zM689 333h1v1h-1zM688 334h1v1h-1zM687 335h1v1h-1zM685 336h2v1h-2zM684 337h1v1h-1zM683 338h1v1h-1zM682 339h1v1h-1zM680 340h2v1h-2zM679 341h1v1h-1zM678 342h1v1h-1zM677 343h1v1h-1zM675 344h2v1h-2zM674 345h1v1h-1zM673 346h1v1h-1zM672 347h1v1h-1zM670 348h2v1h-2zM669 349h1v1h-1zM668 350h1v1h-1zM666 351h2v1h-2zM664 352h2v1h-2zM663 353h1v1h-1zM661 354h2v1h-2zM659 355h2v1h-2zM658 356h1v1h-1zM656 357h2v1h-2zM654 358h2v1h-2zM653 359h1v1h-1zM651 360h2v1h-2zM649 361h2v1h-2zM647 362h2v1h-2zM646 363h1v1h-1zM644 364h2v1h-2zM642 365h2v1h-2zM641 366h1v1h-1zM639 367h2v1h-2zM637 368h2v1h-2zM636 369h1v1h-1zM634 370h2v1h-2zM632 371h2v1h-2zM631 372h1v1h-1zM629 373h2v1h-2zM627 374h2v1h-2zM625 375h2v1h-2zM623 376h2v1h-2zM621 377h2v1h-2zM619 378h2v1h-2zM617 379h2v1h-2zM615 380h2v1h-2zM613 381h2v1h-2zM611 382h2v1h-2zM609 383h2v1h-2zM607 384h2v1h-2zM605 385h2v1h-2zM603 386h2v1h-2zM601 387h2v1h-2zM599 388h2v1h-2zM597 389h2v1h-2zM595 390h2v1h-2zM593 391h2v1h-2zM591 392h2v1h-2zM589 393h2v1h-2zM587 394h2v1h-2zM584 395h3v1h-3zM582 396h2v1h-2zM579 397h3v1h-3zM577 398h2v1h-2zM574 399h3v1h-3zM572 400h2v1h-2zM569 401h3v1h-3zM567 402h2v1h-2zM564 403h3v1h-3zM562 404h2v1h-2zM560 405h2v1h-2zM557 406h3v1h-3zM555 407h2v1h-2zM552 408h3v1h-3zM550 409h2v1h-2zM547 410h3v1h-3zM545 411h2v1h-2zM542 412h3v1h-3zM538 413h4v1h-4zM534 414h4v1h-4zM530 415h4v1h-4zM527 416h3v1h-3zM523 417h4v1h-4zM519 418h4v1h-4zM516 419h3v1h-3zM512 420h4v1h-4zM508 421h4v1h-4zM504 422h4v1h-4zM501 423h3v1h-3zM498 424h3v1h-3zM495 425h3v1h-3zM493 426h2v1h-2zM490 427h3v1h-3zM487 428h3v1h-3zM484 429h3v1h-3zM481 430h3v1h-3zM479 431h2v1h-2zM476 432h3v1h-3zM473 433h3v1h-3zM470 434h3v1h-3zM467 435h3v1h-3zM465 436h2v1h-2zM462 437h3v1h-3zM460 438h2v1h-2zM458 439h2v1h-2zM456 440h2v1h-2zM454 441h2v1h-2zM452 442h2v1h-2zM451 443h1v1h-1zM449 444h2v1h-2zM447 445h2v1h-2zM445 446h2v1h-2zM444 447h1v1h-1zM442 448h2v1h-2zM440 449h2v1h-2zM438 450h2v1h-2zM436 451h2v1h-2zM435 452h1v1h-1zM433 453h2v1h-2zM431 454h2v1h-2zM429 455h2v1h-2zM428 456h1v1h-1zM426 457h2v1h-2zM424 458h2v1h-2zM422 459h2v1h-2zM420 460h2v1h-2zM418 461h2v1h-2zM416 462h2v1h-2zM413 463h3v1h-3zM411 464h2v1h-2zM408 465h3v1h-3zM406 466h2v1h-2zM403 467h3v1h-3zM401 468h2v1h-2zM398 469h3v1h-3zM396 470h2v1h-2zM394 471h2v1h-2zM391 472h3v1h-3zM389 473h2v1h-2zM386 474h3v1h-3zM384 475h2v1h-2zM381 476h3v1h-3zM379 477h2v1h-2zM376 478h3v1h-3zM372 479h4v1h-4zM369 480h3v1h-3zM366 481h3v1h-3zM362 482h4v1h-4zM359 483h3v1h-3zM355 484h4v1h-4zM352 485h3v1h-3zM348 486h4v1h-4zM345 487h3v1h-3zM342 488h3v1h-3zM338 489h4v1h-4zM336 490h2v1h-2zM335 491h1v1h-1zM335 492h1v1h-1zM334 493h1v1h-1zM333 494h1v1h-1zM332 495h1v1h-1zM332 496h1v1h-1zM331 497h1v1h-1zM330 498h1v1h-1zM329 499h1v1h-1zM329 500h1v1h-1zM328 501h1v1h-1zM327 502h1v1h-1zM326 503h1v1h-1zM326 504h1v1h-1zM325 505h1v1h-1zM324 506h1v1h-1zM323 507h1v1h-1zM323 508h1v1h-1zM322 509h1v1h-1zM321 510h1v1h-1zM320 511h1v1h-1zM320 512h1v1h-1zM319 513h1v1h-1zM318 514h1v1h-1zM317 515h1v1h-1zM317 516h1v1h-1zM316 517h1v1h-1zM315 518h1v1h-1zM314 519h1v1h-1zM314 520h1v1h-1zM313 521h1v1h-1zM312 522h1v1h-1zM311 523h1v1h-1zM311 524h1v1h-1zM310 525h1v1h-1zM309 526h1v1h-1zM308 527h1v1h-1zM308 528h1v1h-1zM307 529h1v1h-1zM306 530h1v1h-1zM305 531h1v1h-1zM305 532h1v1h-1zM304 533h1v1h-1zM303 534h1v1h-1zM302 535h1v1h-1zM302 536h1v1h-1zM301 537h1v1h-1zM300 538h1v1h-1zM299 539h1v1h-1zM299 540h1v1h-1zM298 541h1v1h-1zM297 542h1v1h-1zM296 543h1v1h-1zM296 544h1v1h-1zM295 545h1v1h-1zM293 546h2v1h-2zM291 547h2v1h-2zM289 548h2v1h-2zM288 549h1v1h-1zM286 550h2v1h-2zM284 551h2v1h-2zM282 552h2v1h-2zM281 553h1v1h-1zM279 554h2v1h-2zM277 555h2v1h-2zM275 556h2v1h-2zM274 557h1v1h-1zM272 558h2v1h-2zM270 559h2v1h-2zM268 560h2v1h-2zM267 561h1v1h-1zM265 562h2v1h-2zM263 563h2v1h-2zM261 564h2v1h-2zM260 565h1v1h-1zM258 566h2v1h-2zM256 567h2v1h-2zM254 568h2v1h-2zM253 569h1v1h-1z" fill="#0000ff"/><path d="M958 52h1v1h-1zM958 53h1v1h-1zM957 54h1v1h-1zM957 55h1v1h-1zM956 56h1v1h-1zM956 57h1v1h-1zM956 58h1v1h-1zM955 59h1v1h-1zM955 60h1v1h-1zM955 61h1v1h-1zM954 62h1v1h-1zM954 63h1v1h-1zM953 64h1v1h-1zM953 65h1v1h-1zM953 66h1v1h-1zM952 67h1v1h-1zM952 68h1v1h-1zM952 69h1v1h-1zM951 70h1v1h-1zM951 71h1v1h-1zM950 72h1v1h-1zM950 73h1v1h-1zM950 74h1v1h-1zM949 75h1v1h-1zM949 76h1v1h-1zM949 77h1v1h-1zM948 78h1v1h-1zM948 79h1v1h-1zM947 80h1v1h-1zM947 81h1v1h-1zM947 82h1v1h-1zM946 83h1v1h-1zM946 84h1v1h-1zM946 85h1v1h-1zM945 86h1v1h-1zM945 87h1v1h-1zM944 88h1v1h-1zM944 89h1v1h-1zM944 90h1v1h-1zM943 91h1v1h-1zM943 92h1v1h-1zM943 93h1v1h-1zM942 94h1v1h-1zM942 95h1v1h-1zM941 96h1v1h-1zM941 97h1v1h-1zM941 98h1v1h-1zM940 99h1v1h-1zM940 100h1v1h-1zM940 101h1v1h-1zM939 102h1v1h-1zM939 103h1v1h-1zM938 104h1v1h-1zM938 105h1v1h-1zM938 106h1v1h-1zM937 107h1v1h-1zM937 108h1v1h-1zM937 109h1v1h-1zM936 110h1v1h-1zM936 111h1v1h-1zM935 112h1v1h-1zM935 113h1v1h-1zM935 114h1v1h-1zM934 115h1v1h-1zM934 116h1v1h-1zM934 117h1v1h-1zM933 118h1v1h-1zM933 119h1v1h-1zM932 120h1v1h-1zM932 121h1v1h-1zM932 122h1v1h-1zM931 123h1v1h-1zM931 124h1v1h-1zM931 125h1v1h-1zM930 126h1v1h-1zM930 127h1v1h-1zM929 128h1v1h-1zM929 129h1v1h-1zM929 130h1v1h-1zM928 131h1v1h-1zM928 132h1v1h-1zM928 133h1v1h-1zM927 134h1v1h-1zM927 135h1v1h-1zM926 136h1v1h-1zM926 137h1v1h-1zM926 138h1v1h-1zM925 139h1v1h-1zM925 140h1v1h-1zM925 141h1v1h-1zM924 142h1v1h-1zM924 143h1v1h-1zM923 144h1v1h-1zM923 145h1v1h-1zM923 146h1v1h-1zM922 147h1v1h-1zM922 148h1v1h-1zM922 149h1v1h-1zM921 150h1v1h-1zM921 151h1v1h-1zM920 152h1v1h-1zM920 153h1v1h-1zM920 154h1v1h-1zM919 155h1v1h-1zM919 156h1v1h-1zM919 157h1v1h-1zM918 158h1v1h-1zM918 159h1v1h-1zM917 160h1v1h-1zM917 161h1v1h-1zM917 162h1v1h-1zM916 163h1v1h-1zM916 164h1v1h-1zM915 165h1v1h-1zM913 166h2v1h-2zM912 167h1v1h-1zM911 168h1v1h-1zM910 169h1v1h-1zM909 170h1v1h-1zM907 171h2v1h-2zM906 172h1v1h-1zM905 173h1v1h-1zM904 174h1v1h-1zM903 175h1v1h-1zM901 176h2v1h-2zM900 177h1v1h-1zM899 178h1v1h-1zM898 179h1v1h-1zM897 180h1v1h-1zM895 181h2v1h-2zM894 182h1v1h-1zM893 183h1v1h-1zM892 184h1v1h-1zM891 185h1v1h-1zM889 186h2v1h-2zM888 187h1v1h-1zM887 188h1v1h-1zM886 189h1v1h-1zM885 190h1v1h-1zM883 191h2v1h-2zM882 192h1v1h-1zM881 193h1v1h-1zM880 194h1v1h-1zM879 195h1v1h-1zM877 196h2v1h-2zM876 197h1v1h-1zM875 198h1v1h-1zM873 199h2v1h-2zM872 200h1v1h-1zM870 201h2v1h-2zM868 202h2v1h-2zM867 203h1v1h-1zM865 204h2v1h-2zM864 205h1v1h-1zM862 206h2v1h-2zM861 207h1v1h-1zM859 208h2v1h-2zM858 209h1v1h-1zM856 210h2v1h-2zM854 211h2v1h-2zM853 212h1v1h-1zM851 213h2v1h-2zM850 214h1v1h-1zM848 215h2v1h-2zM847 216h1v1h-1zM845 217h2v1h-2zM844 218h1v1h-1zM842 219h2v1h-2zM840 220h2v1h-2zM839 221h1v1h-1zM837 222h2v1h-2zM836 223h1v1h-1zM834 224h2v1h-2zM791 225h43v1h-43zM788 226h3v1h-3zM785 227h3v1h-3zM782 228h3v1h-3zM779 229h3v1h-3zM776 230h3v1h-3zM773 231h3v1h-3zM770 232h3v1h-3zM767 233h3v1h-3zM764 234h3v1h-3zM761 235h3v1h-3zM758 236h3v1h-3zM755 237h3v1h-3zM752 238h3v1h-3zM750 239h2v1h-2zM749 240h1v1h-1zM747 241h2v1h-2zM746 242h1v1h-1zM745 243h1v1h-1zM743 244h2v1h-2zM742 245h1v1h-1zM741 246h1v1h-1zM739 247h2v1h-2zM738 248h1v1h-1zM737 249h1v1h-1zM735 250h2v1h-2zM734 251h1v1h-1zM733 252h1v1h-1zM731 253h2v1h-2zM730 254h1v1h-1zM729 255h1v1h-1zM727 256h2v1h-2zM726 257h1v1h-1zM725 258h1v1h-1zM723 259h2v1h-2zM722 260h1v1h-1zM721 261h1v1h-1zM719 262h2v1h-2zM718 263h1v1h-1zM717 264h1v1h-1zM715 265h2v1h-2zM714 266h1v1h-1zM713 267h1v1h-1zM711 268h2v1h-2zM710 269h1v1h-1zM709 270h1v1h-1zM707 271h2v1h-2zM706 272h1v1h-1zM705 273h1v1h-1zM703 274h2v1h-2zM702 275h1v1h-1zM701 276h1v1h-1zM699 277h2v1h-2zM698 278h1v1h-1zM697 279h1v1h-1zM695 280h2v1h-2zM694 281h1v1h-1zM692 282h2v1h-2zM691 283h1v1h-1zM690 284h1v1h-1zM688 285h2v1h-2zM687 286h1v1h-1zM686 287h1v1h-1zM684 288h2v1h-2zM683 289h1v1h-1zM681 290h2v1h-2zM680 291h1v1h-1zM679 292h1v1h-1zM677 293h2v1h-2zM676 294h1v1h-1zM675 295h1v1h-1zM673 296h2v1h-2zM672 297h1v1h-1zM671 298h1v1h-1zM669 299h2v1h-2zM668 300h1v1h-1zM666 301h2v1h-2zM664 302h2v1h-2zM662 303h2v1h-2zM660 304h2v1h-2zM658 305h2v1h-2zM656 306h2v1h-2zM654 307h2v1h-2zM652 308h2v1h-2zM650 309h2v1h-2zM648 310h2v1h-2zM647 311h1v1h-1zM645 312h2v1h-2zM643 313h2v1h-2zM641 314h2v1h-2zM639 315h2v1h-2zM637 316h2v1h-2zM635 317h2v1h-2zM633 318h2v1h-2zM631 319h2v1h-2zM629 320h2v1h-2zM627 321h2v1h-2zM625 322h2v1h-2zM623 323h2v1h-2zM620 324h3v1h-3zM618 325h2v1h-2zM616 326h2v1h-2zM613 327h3v1h-3zM611 328h2v1h-2zM608 329h3v1h-3zM606 330h2v1h-2zM604 331h2v1h-2zM601 332h3v1h-3zM599 333h2v1h-2zM596 334h3v1h-3zM594 335h2v1h-2zM592 336h2v1h-2zM589 337h3v1h-3zM587 338h2v1h-2zM585 339h2v1h-2zM584 340h1v1h-1zM583 341h1v1h-1zM582 342h1v1h-1zM581 343h1v1h-1zM580 344h1v1h-1zM579 345h1v1h-1zM502 346h1v1h-1zM578 346h1v1h-1zM501 347h1v1h-1zM503 347h1v1h-1zM577 347h1v1h-1zM501 348h1v1h-1zM504 348h1v1h-1zM576 348h1v1h-1zM500 349h1v1h-1zM505 349h2v1h-2zM575 349h1v1h-1zM500 350h1v1h-1zM507 350h1v1h-1zM574 350h1v1h-1zM499 351h1v1h-1zM508 351h1v1h-1zM573 351h1v1h-1zM499 352h1v1h-1zM509 352h1v1h-1zM572 352h1v1h-1zM498 353h1v1h-1zM510 353h1v1h-1zM571 353h1v1h-1zM498 354h1v1h-1zM511 354h1v1h-1zM570 354h1v1h-1zM497 355h1v1h-1zM512 355h2v1h-2zM569 355h1v1h-1zM497 356h1v1h-1zM514 356h1v1h-1zM568 356h1v1h-1zM496 357h1v1h-1zM515 357h1v1h-1zM567 357h1v1h-1zM496 358h1v1h-1zM516 358h1v1h-1zM566 358h1v1h-1zM495 359h1v1h-1zM517 359h1v1h-1zM565 359h1v1h-1zM495 360h1v1h-1zM518 360h1v1h-1zM564 360h1v1h-1zM494 361h1v1h-1zM519 361h2v1h-2zM563 361h1v1h-1zM494 362h1v1h-1zM521 362h1v1h-1zM562 362h1v1h-1zM493 363h1v1h-1zM522 363h1v1h-1zM561 363h1v1h-1zM493 364h1v1h-1zM523 364h1v1h-1zM560 364h1v1h-1zM492 365h1v1h-1zM524 365h1v1h-1zM559 365h1v1h-1zM492 366h1v1h-1zM525 366h2v1h-2zM558 366h1v1h-1zM491 367h1v1h-1zM527 367h1v1h-1zM557 367h1v1h-1zM491 368h1v1h-1zM528 368h1v1h-1zM556 368h1v1h-1zM490 369h1v1h-1zM529 369h1v1h-1zM555 369h1v1h-1zM490 370h1v1h-1zM530 370h1v1h-1zM554 370h1v1h-1zM489 371h1v1h-1zM531 371h1v1h-1zM553 371h1v1h-1zM489 372h1v1h-1zM532 372h2v1h-2zM552 372h1v1h-1zM488 373h1v1h-1zM534 373h1v1h-1zM551 373h1v1h-1zM488 374h1v1h-1zM535 374h1v1h-1zM550 374h1v1h-1zM487 375h1v1h-1zM536 375h1v1h-1zM549 375h1v1h-1zM487 376h1v1h-1zM537 376h1v1h-1zM548 376h1v1h-1zM486 377h1v1h-1zM538 377h1v1h-1zM547 377h1v1h-1zM486 378h1v1h-1zM539 378h2v1h-2zM546 378h1v1h-1zM485 379h1v1h-1zM541 379h1v1h-1zM545 379h1v1h-1zM485 380h1v1h-1zM542 380h1v1h-1zM544 380h1v1h-1zM484 381h1v1h-1zM543 381h1v1h-1zM484 382h1v1h-1zM483 383h1v1h-1zM483 384h1v1h-1zM482 385h1v1h-1zM482 386h1v1h-1zM481 387h1v1h-1zM481 388h1v1h-1zM480 389h1v1h-1zM480 390h1v1h-1zM479 391h1v1h-1zM479 392h1v1h-1zM478 393h1v1h-1zM478 394h1v1h-1zM477 395h1v1h-1zM477 396h1v1h-1zM476 397h1v1h-1zM476 398h1v1h-1zM475 399h1v1h-1zM475 400h1v1h-1zM474 401h1v1h-1zM474 402h1v1h-1zM473 403h1v1h-1zM473 404h1v1h-1zM472 405h1v1h-1zM472 406h1v1h-1zM471 407h1v1h-1zM471 408h1v1h-1zM470 409h1v1h-1zM470 410h1v1h-1zM469 411h1v1h-1zM469 412h1v1h-1zM468 413h1v1h-1zM468 414h1v1h-1zM467 415h1v1h-1zM467 416h1v1h-1zM466 417h1v1h-1zM466 418h1v1h-1zM465 419h1v1h-1zM465 420h1v1h-1zM464 421h1v1h-1zM464 422h1v1h-1zM463 423h1v1h-1zM463 424h1v1h-1zM462 425h1v1h-1zM462 426h1v1h-1zM461 427h1v1h-1zM461 428h1v1h-1zM460 429h1v1h-1zM458 430h2v1h-2zM456 431h2v1h-2zM454 432h2v1h-2zM452 433h2v1h-2zM450 434h2v1h-2zM448 435h2v1h-2zM446 436h2v1h-2zM444 437h2v1h-2zM442 438h2v1h-2zM440 439h2v1h-2zM438 440h2v1h-2zM436 441h2v1h-2zM434 442h2v1h-2zM432 443h2v1h-2zM430 444h2v1h-2zM428 445h2v1h-2zM426 446h2v1h-2zM424 447h2v1h-2zM422 448h2v1h-2zM420 449h2v1h-2zM418 450h2v1h-2zM416 451h2v1h-2zM414 452h2v1h-2zM411 453h3v1h-3zM409 454h2v1h-2zM336 455h2v1h-2zM407 455h2v1h-2zM335 456h1v1h-1zM338 456h3v1h-3zM404 456h3v1h-3zM335 457h1v1h-1zM341 457h3v1h-3zM402 457h2v1h-2zM334 458h1v1h-1zM344 458h4v1h-4zM400 458h2v1h-2zM333 459h1v1h-1zM348 459h3v1h-3zM397 459h3v1h-3zM333 460h1v1h-1zM351 460h3v1h-3zM395 460h2v1h-2zM332 461h1v1h-1zM354 461h3v1h-3zM393 461h2v1h-2zM332 462h1v1h-1zM357 462h3v1h-3zM390 462h3v1h-3zM331 463h1v1h-1zM360 463h3v1h-3zM388 463h2v1h-2zM330 464h1v1h-1zM363 464h3v1h-3zM386 464h2v1h-2zM330 465h1v1h-1zM366 465h4v1h-4zM383 465h3v1h-3zM329 466h1v1h-1zM370 466h3v1h-3zM381 466h2v1h-2zM328 467h1v1h-1zM373 467h3v1h-3zM379 467h2v1h-2zM328 468h1v1h-1zM376 468h3v1h-3zM327 469h1v1h-1zM327 470h1v1h-1zM326 471h1v1h-1zM325 472h1v1h-1zM325 473h1v1h-1zM324 474h1v1h-1zM323 475h1v1h-1zM323 476h1v1h-1zM322 477h1v1h-1zM321 478h1v1h-1zM321 479h1v1h-1zM320 480h1v1h-1zM320 481h1v1h-1zM319 482h1v1h-1zM318 483h1v1h-1zM318 484h1v1h-1zM317 485h1v1h-1zM316 486h1v1h-1zM316 487h1v1h-1zM315 488h1v1h-1zM315 489h1v1h-1zM314 490h1v1h-1zM313 491h1v1h-1zM313 492h1v1h-1zM312 493h1v1h-1zM311 494h1v1h-1zM311 495h1v1h-1zM310 496h1v1h-1zM310 497h1v1h-1zM309 498h1v1h-1zM308 499h1v1h-1zM308 500h1v1h-1zM307 501h1v1h-1zM306 502h1v1h-1zM306 503h1v1h-1zM305 504h1v1h-1zM304 505h1v1h-1zM304 506h1v1h-1zM303 507h1v1h-1zM303 508h1v1h-1zM302 509h1v1h-1zM301 510h1v1h-1zM301 511h1v1h-1zM300 512h1v1h-1zM299 513h1v1h-1zM299 514h1v1h-1zM298 515h1v1h-1zM298 516h1v1h-1zM297 517h1v1h-1zM296 518h1v1h-1zM296 519h1v1h-1zM295 520h1v1h-1zM293 521h2v1h-2zM292 522h1v1h-1zM290 523h2v1h-2zM288 524h2v1h-2zM287 525h1v1h-1zM285 526h2v1h-2zM284 527h1v1h-1zM282 528h2v1h-2zM281 529h1v1h-1zM279 530h2v1h-2zM278 531h1v1h-1zM276 532h2v1h-2zM274 533h2v1h-2zM273 534h1v1h-1zM271 535h2v1h-2zM270 536h1v1h-1zM268 537h2v1h-2zM267 538h1v1h-1zM265 539h2v1h-2zM264 540h1v1h-1zM262 541h2v1h-2zM260 542h2v1h-2zM259 543h1v1h-1zM257 544h2v1h-2zM256 545h1v1h-1zM254 546h2v1h-2zM253 547h1v1h-1z" fill="#808000"/><path d="M958 81h1v1h-1zM958 82h1v1h-1zM957 83h1v1h-1zM957 84h1v1h-1zM956 85h1v1h-1zM956 86h1v1h-1zM956 87h1v1h-1zM955 88h1v1h-1zM955 89h1v1h-1zM954 90h1v1h-1zM954 91h1v1h-1zM953 92h1v1h-1zM953 93h1v1h-1zM953 94h1v1h-1zM952 95h1v1h-1zM952 96h1v1h-1zM951 97h1v1h-1zM951 98h1v1h-1zM951 99h1v1h-1zM950 100h1v1h-1zM950 101h1v1h-1zM949 102h1v1h-1zM949 103h1v1h-1zM949 104h1v1h-1zM948 105h1v1h-1zM948 106h1v1h-1zM947 107h1v1h-1zM947 108h1v1h-1zM946 109h1v1h-1zM946 110h1v1h-1zM946 111h1v1h-1zM945 112h1v1h-1zM945 113h1v1h-1zM944 114h1v1h-1zM944 115h1v1h-1zM944 116h1v1h-1zM943 117h1v1h-1zM943 118h1v1h-1zM942 119h1v1h-1zM942 120h1v1h-1zM942 121h1v1h-1zM941 122h1v1h-1zM941 123h1v1h-1zM940 124h1v1h-1zM940 125h1v1h-1zM939 126h1v1h-1zM939 127h1v1h-1zM939 128h1v1h-1zM938 129h1v1h-1zM938 130h1v1h-1zM937 131h1v1h-1zM937 132h1v1h-1zM937 133h1v1h-1zM936 134h1v1h-1zM936 135h1v1h-1zM935 136h1v1h-1zM935 137h1v1h-1zM935 138h1v1h-1zM934 139h1v1h-1zM934 140h1v1h-1zM933 141h1v1h-1zM933 142h1v1h-1zM932 143h1v1h-1zM932 144h1v1h-1zM932 145h1v1h-1zM931 146h1v1h-1zM931 147h1v1h-1zM930 148h1v1h-1zM930 149h1v1h-1zM930 150h1v1h-1zM929 151h1v1h-1zM929 152h1v1h-1zM928 153h1v1h-1zM928 154h1v1h-1zM928 155h1v1h-1zM927 156h1v1h-1zM927 157h1v1h-1zM926 158h1v1h-1zM926 159h1v1h-1zM925 160h1v1h-1zM925 161h1v1h-1zM925 162h1v1h-1zM924 163h1v1h-1zM924 164h1v1h-1zM923 165h1v1h-1zM923 166h1v1h-1zM923 167h1v1h-1zM922 168h1v1h-1zM922 169h1v1h-1zM921 170h1v1h-1zM921 171h1v1h-1zM921 172h1v1h-1zM920 173h1v1h-1zM920 174h1v1h-1zM919 175h1v1h-1zM919 176h1v1h-1zM918 177h1v1h-1zM918 178h1v1h-1zM918 179h1v1h-1zM917 180h1v1h-1zM917 181h1v1h-1zM916 182h1v1h-1zM875 183h42v1h-42zM873 184h2v1h-2zM872 185h1v1h-1zM870 186h2v1h-2zM869 187h1v1h-1zM868 188h1v1h-1zM866 189h2v1h-2zM865 190h1v1h-1zM863 191h2v1h-2zM862 192h1v1h-1zM860 193h2v1h-2zM859 194h1v1h-1zM857 195h2v1h-2zM856 196h1v1h-1zM854 197h2v1h-2zM853 198h1v1h-1zM852 199h1v1h-1zM850 200h2v1h-2zM849 201h1v1h-1zM847 202h2v1h-2zM846 203h1v1h-1zM844 204h2v1h-2zM843 205h1v1h-1zM841 206h2v1h-2zM840 207h1v1h-1zM839 208h1v1h-1zM837 209h2v1h-2zM836 210h1v1h-1zM834 211h2v1h-2zM792 212h42v1h-42zM791 213h1v1h-1zM790 214h1v1h-1zM789 215h1v1h-1zM789 216h1v1h-1zM788 217h1v1h-1zM787 218h1v1h-1zM786 219h1v1h-1zM785 220h1v1h-1zM784 221h1v1h-1zM783 222h1v1h-1zM783 223h1v1h-1zM782 224h1v1h-1zM781 225h1v1h-1zM780 226h1v1h-1zM779 227h1v1h-1zM778 228h1v1h-1zM777 229h1v1h-1zM777 230h1v1h-1zM776 231h1v1h-1zM775 232h1v1h-1zM774 233h1v1h-1zM773 234h1v1h-1zM772 235h1v1h-1zM771 236h1v1h-1zM771 237h1v1h-1zM770 238h1v1h-1zM769 239h1v1h-1zM768 240h1v1h-1zM767 241h1v1h-1zM766 242h1v1h-1zM765 243h1v1h-1zM765 244h1v1h-1zM764 245h1v1h-1zM763 246h1v1h-1zM762 247h1v1h-1zM761 248h1v1h-1zM760 249h1v1h-1zM759 250h1v1h-1zM759 251h1v1h-1zM758 252h1v1h-1zM757 253h1v1h-1zM756 254h1v1h-1zM755 255h1v1h-1zM754 256h1v1h-1zM753 257h1v1h-1zM753 258h1v1h-1zM752 259h1v1h-1zM751 260h1v1h-1zM750 261h1v1h-1zM748 262h2v1h-2zM747 263h1v1h-1zM746 264h1v1h-1zM744 265h2v1h-2zM743 266h1v1h-1zM741 267h2v1h-2zM740 268h1v1h-1zM738 269h2v1h-2zM737 270h1v1h-1zM736 271h1v1h-1zM734 272h2v1h-2zM733 273h1v1h-1zM731 274h2v1h-2zM730 275h1v1h-1zM729 276h1v1h-1zM727 277h2v1h-2zM726 278h1v1h-1zM724 279h2v1h-2zM723 280h1v1h-1zM722 281h1v1h-1zM720 282h2v1h-2zM719 283h1v1h-1zM717 284h2v1h-2zM716 285h1v1h-1zM714 286h2v1h-2zM713 287h1v1h-1zM712 288h1v1h-1zM710 289h2v1h-2zM709 290h1v1h-1zM707 291h2v1h-2zM706 292h1v1h-1zM704 293h2v1h-2zM703 294h1v1h-1zM701 295h2v1h-2zM700 296h1v1h-1zM698 297h2v1h-2zM697 298h1v1h-1zM695 299h2v1h-2zM694 300h1v1h-1zM692 301h2v1h-2zM691 302h1v1h-1zM689 303h2v1h-2zM687 304h2v1h-2zM686 305h1v1h-1zM684 306h2v1h-2zM683 307h1v1h-1zM681 308h2v1h-2zM680 309h1v1h-1zM678 310h2v1h-2zM677 311h1v1h-1zM675 312h2v1h-2zM674 313h1v1h-1zM672 314h2v1h-2zM671 315h1v1h-1zM669 316h2v1h-2zM668 317h1v1h-1zM666 318h2v1h-2zM664 319h2v1h-2zM662 320h2v1h-2zM660 321h2v1h-2zM658 322h2v1h-2zM657 323h1v1h-1zM655 324h2v1h-2zM653 325h2v1h-2zM651 326h2v1h-2zM649 327h2v1h-2zM647 328h2v1h-2zM646 329h1v1h-1zM644 330h2v1h-2zM642 331h2v1h-2zM640 332h2v1h-2zM638 333h2v1h-2zM637 334h1v1h-1zM635 335h2v1h-2zM633 336h2v1h-2zM631 337h2v1h-2zM629 338h2v1h-2zM627 339h2v1h-2zM626 340h1v1h-1zM624 341h2v1h-2zM622 342h2v1h-2zM621 343h1v1h-1zM619 344h2v1h-2zM617 345h2v1h-2zM615 346h2v1h-2zM614 347h1v1h-1zM612 348h2v1h-2zM610 349h2v1h-2zM609 350h1v1h-1zM607 351h2v1h-2zM605 352h2v1h-2zM603 353h2v1h-2zM602 354h1v1h-1zM600 355h2v1h-2zM598 356h2v1h-2zM597 357h1v1h-1zM595 358h2v1h-2zM593 359h2v1h-2zM591 360h2v1h-2zM590 361h1v1h-1zM588 362h2v1h-2zM586 363h2v1h-2zM584 364h2v1h-2zM582 365h2v1h-2zM580 366h2v1h-2zM578 367h2v1h-2zM576 368h2v1h-2zM574 369h2v1h-2zM572 370h2v1h-2zM570 371h2v1h-2zM568 372h2v1h-2zM566 373h2v1h-2zM563 374h3v1h-3zM561 375h2v1h-2zM559 376h2v1h-2zM557 377h2v1h-2zM555 378h2v1h-2zM553 379h2v1h-2zM551 380h2v1h-2zM549 381h2v1h-2zM547 382h2v1h-2zM545 383h2v1h-2zM542 384h3v1h-3zM540 385h2v1h-2zM537 386h3v1h-3zM535 387h2v1h-2zM533 388h2v1h-2zM530 389h3v1h-3zM528 390h2v1h-2zM525 391h3v1h-3zM523 392h2v1h-2zM521 393h2v1h-2zM518 394h3v1h-3zM516 395h2v1h-2zM513 396h3v1h-3zM511 397h2v1h-2zM509 398h2v1h-2zM506 399h3v1h-3zM504 400h2v1h-2zM502 401h2v1h-2zM500 402h2v1h-2zM498 403h2v1h-2zM496 404h2v1h-2zM495 405h1v1h-1zM493 406h2v1h-2zM491 407h2v1h-2zM489 408h2v1h-2zM488 409h1v1h-1zM486 410h2v1h-2zM484 411h2v1h-2zM482 412h2v1h-2zM481 413h1v1h-1zM479 414h2v1h-2zM477 415h2v1h-2zM475 416h2v1h-2zM474 417h1v1h-1zM472 418h2v1h-2zM470 419h2v1h-2zM468 420h2v1h-2zM467 421h1v1h-1zM465 422h2v1h-2zM463 423h2v1h-2zM461 424h2v1h-2zM460 425h1v1h-1zM458 426h2v1h-2zM456 427h2v1h-2zM454 428h2v1h-2zM452 429h2v1h-2zM450 430h2v1h-2zM448 431h2v1h-2zM446 432h2v1h-2zM444 433h2v1h-2zM442 434h2v1h-2zM440 435h2v1h-2zM438 436h2v1h-2zM436 437h2v1h-2zM434 438h2v1h-2zM432 439h2v1h-2zM430 440h2v1h-2zM428 441h2v1h-2zM426 442h2v1h-2zM424 443h2v1h-2zM422 444h2v1h-2zM420 445h2v1h-2zM418 446h2v1h-2zM416 447h2v1h-2zM414 448h2v1h-2zM411 449h3v1h-3zM409 450h2v1h-2zM407 451h2v1h-2zM404 452h3v1h-3zM402 453h2v1h-2zM400 454h2v1h-2zM397 455h3v1h-3zM395 456h2v1h-2zM393 457h2v1h-2zM390 458h3v1h-3zM388 459h2v1h-2zM386 460h2v1h-2zM383 461h3v1h-3zM381 462h2v1h-2zM379 463h2v1h-2zM376 464h3v1h-3zM372 465h4v1h-4zM368 466h4v1h-4zM364 467h4v1h-4zM361 468h3v1h-3zM357 469h4v1h-4zM353 470h4v1h-4zM350 471h3v1h-3zM346 472h4v1h-4zM342 473h4v1h-4zM338 474h4v1h-4zM336 475h2v1h-2zM335 476h1v1h-1zM335 477h1v1h-1zM334 478h1v1h-1zM334 479h1v1h-1zM333 480h1v1h-1zM332 481h1v1h-1zM332 482h1v1h-1zM331 483h1v1h-1zM330 484h1v1h-1zM330 485h1v1h-1zM329 486h1v1h-1zM329 487h1v1h-1zM328 488h1v1h-1zM327 489h1v1h-1zM327 490h1v1h-1zM326 491h1v1h-1zM325 492h1v1h-1zM325 493h1v1h-1zM324 494h1v1h-1zM324 495h1v1h-1zM323 496h1v1h-1zM322 497h1v1h-1zM322 498h1v1h-1zM321 499h1v1h-1zM320 500h1v1h-1zM320 501h1v1h-1zM319 502h1v1h-1zM319 503h1v1h-1zM318 504h1v1h-1zM317 505h1v1h-1zM317 506h1v1h-1zM316 507h1v1h-1zM315 508h1v1h-1zM315 509h1v1h-1zM314 510h1v1h-1zM314 511h1v1h-1zM313 512h1v1h-1zM312 513h1v1h-1zM312 514h1v1h-1zM311 515h1v1h-1zM311 516h1v1h-1zM310 517h1v1h-1zM309 518h1v1h-1zM309 519h1v1h-1zM308 520h1v1h-1zM307 521h1v1h-1zM307 522h1v1h-1zM306 523h1v1h-1zM306 524h1v1h-1zM305 525h1v1h-1zM304 526h1v1h-1zM304 527h1v1h-1zM303 528h1v1h-1zM302 529h1v1h-1zM302 530h1v1h-1zM301 531h1v1h-1zM301 532h1v1h-1zM300 533h1v1h-1zM299 534h1v1h-1zM299 535h1v1h-1zM298 536h1v1h-1zM297 537h1v1h-1zM297 538h1v1h-1zM296 539h1v1h-1zM296 540h1v1h-1zM292 541h4v1h-4zM285 542h7v1h-7zM278 543h7v1h-7zM271 544h7v1h-7zM264 545h7v1h-7zM257 546h7v1h-7zM253 547h4v1h-4z" fill="#ff00ff"/><path d="M958 111h1v1h-1zM957 112h1v1h-1zM957 113h1v1h-1zM956 114h1v1h-1zM956 115h1v1h-1zM955 116h1v1h-1zM955 117h1v1h-1zM954 118h1v1h-1zM953 119h1v1h-1zM953 120h1v1h-1zM952 121h1v1h-1zM952 122h1v1h-1zM951 123h1v1h-1zM951 124h1v1h-1zM950 125h1v1h-1zM949 126h1v1h-1zM949 127h1v1h-1zM948 128h1v1h-1zM948 129h1v1h-1zM947 130h1v1h-1zM946 131h1v1h-1zM946 132h1v1h-1zM945 133h1v1h-1zM945 134h1v1h-1zM944 135h1v1h-1zM944 136h1v1h-1zM943 137h1v1h-1zM942 138h1v1h-1zM942 139h1v1h-1zM941 140h1v1h-1zM941 141h1v1h-1zM940 142h1v1h-1zM940 143h1v1h-1zM939 144h1v1h-1zM938 145h1v1h-1zM938 146h1v1h-1zM937 147h1v1h-1zM937 148h1v1h-1zM936 149h1v1h-1zM936 150h1v1h-1zM935 151h1v1h-1zM934 152h1v1h-1zM934 153h1v1h-1zM933 154h1v1h-1zM933 155h1v1h-1zM932 156h1v1h-1zM932 157h1v1h-1zM931 158h1v1h-1zM930 159h1v1h-1zM930 160h1v1h-1zM929 161h1v1h-1zM929 162h1v1h-1zM928 163h1v1h-1zM928 164h1v1h-1zM927 165h1v1h-1zM926 166h1v1h-1zM926 167h1v1h-1zM925 168h1v1h-1zM925 169h1v1h-1zM924 170h1v1h-1zM923 171h1v1h-1zM923 172h1v1h-1zM922 173h1v1h-1zM922 174h1v1h-1zM921 175h1v1h-1zM921 176h1v1h-1zM920 177h1v1h-1zM919 178h1v1h-1zM919 179h1v1h-1zM918 180h1v1h-1zM918 181h1v1h-1zM917 182h1v1h-1zM917 183h1v1h-1zM875 184h42v1h-42zM873 185h2v1h-2zM872 186h1v1h-1zM871 187h1v1h-1zM869 188h2v1h-2zM868 189h1v1h-1zM866 190h2v1h-2zM865 191h1v1h-1zM864 192h1v1h-1zM862 193h2v1h-2zM861 194h1v1h-1zM859 195h2v1h-2zM858 196h1v1h-1zM857 197h1v1h-1zM855 198h2v1h-2zM854 199h1v1h-1zM852 200h2v1h-2zM851 201h1v1h-1zM850 202h1v1h-1zM848 203h2v1h-2zM847 204h1v1h-1zM845 205h2v1h-2zM844 206h1v1h-1zM843 207h1v1h-1zM841 208h2v1h-2zM840 209h1v1h-1zM838 210h2v1h-2zM837 211h1v1h-1zM836 212h1v1h-1zM834 213h2v1h-2zM792 214h42v1h-42zM791 215h1v1h-1zM790 216h1v1h-1zM789 217h1v1h-1zM788 218h1v1h-1zM787 219h1v1h-1zM786 220h1v1h-1zM785 221h1v1h-1zM784 222h1v1h-1zM783 223h1v1h-1zM782 224h1v1h-1zM781 225h1v1h-1zM781 226h1v1h-1zM780 227h1v1h-1zM779 228h1v1h-1zM778 229h1v1h-1zM777 230h1v1h-1zM776 231h1v1h-1zM775 232h1v1h-1zM774 233h1v1h-1zM773 234h1v1h-1zM772 235h1v1h-1zM771 236h1v1h-1zM770 237h1v1h-1zM769 238h1v1h-1zM768 239h1v1h-1zM767 240h1v1h-1zM766 241h1v1h-1zM765 242h1v1h-1zM764 243h1v1h-1zM763 244h1v1h-1zM762 245h1v1h-1zM761 246h1v1h-1zM760 247h1v1h-1zM760 248h1v1h-1zM759 249h1v1h-1zM758 250h1v1h-1zM757 251h1v1h-1zM756 252h1v1h-1zM755 253h1v1h-1zM754 254h1v1h-1zM753 255h1v1h-1zM752 256h1v1h-1zM751 257h1v1h-1zM750 258h1v1h-1zM748 259h2v1h-2zM747 260h1v1h-1zM746 261h1v1h-1zM744 262h2v1h-2zM743 263h1v1h-1zM742 264h1v1h-1zM740 265h2v1h-2zM739 266h1v1h-1zM738 267h1v1h-1zM736 268h2v1h-2zM735 269h1v1h-1zM733 270h2v1h-2zM732 271h1v1h-1zM731 272h1v1h-1zM729 273h2v1h-2zM728 274h1v1h-1zM727 275h1v1h-1zM725 276h2v1h-2zM724 277h1v1h-1zM722 278h2v1h-2zM721 279h1v1h-1zM720 280h1v1h-1zM718 281h2v1h-2zM717 282h1v1h-1zM716 283h1v1h-1zM714 284h2v1h-2zM713 285h1v1h-1zM712 286h1v1h-1zM710 287h2v1h-2zM709 288h1v1h-1zM707 289h2v1h-2zM706 290h1v1h-1zM704 291h2v1h-2zM703 292h1v1h-1zM701 293h2v1h-2zM700 294h1v1h-1zM699 295h1v1h-1zM697 296h2v1h-2zM696 297h1v1h-1zM694 298h2v1h-2zM693 299h1v1h-1zM691 300h2v1h-2zM690 301h1v1h-1zM688 302h2v1h-2zM687 303h1v1h-1zM685 304h2v1h-2zM684 305h1v1h-1zM682 306h2v1h-2zM681 307h1v1h-1zM679 308h2v1h-2zM678 309h1v1h-1zM677 310h1v1h-1zM675 311h2v1h-2zM674 312h1v1h-1zM672 313h2v1h-2zM671 314h1v1h-1zM669 315h2v1h-2zM668 316h1v1h-1zM666 317h2v1h-2zM664 318h2v1h-2zM662 319h2v1h-2zM660 320h2v1h-2zM658 321h2v1h-2zM657 322h1v1h-1zM655 323h2v1h-2zM653 324h2v1h-2zM651 325h2v1h-2zM649 326h2v1h-2zM647 327h2v1h-2zM646 328h1v1h-1zM644 329h2v1h-2zM642 330h2v1h-2zM640 331h2v1h-2zM638 332h2v1h-2zM637 333h1v1h-1zM635 334h2v1h-2zM633 335h2v1h-2zM631 336h2v1h-2zM629 337h2v1h-2zM627 338h2v1h-2zM625 339h2v1h-2zM622 340h3v1h-3zM620 341h2v1h-2zM617 342h3v1h-3zM614 343h3v1h-3zM611 344h3v1h-3zM609 345h2v1h-2zM606 346h3v1h-3zM603 347h3v1h-3zM601 348h2v1h-2zM598 349h3v1h-3zM595 350h3v1h-3zM592 351h3v1h-3zM590 352h2v1h-2zM587 353h3v1h-3zM584 354h3v1h-3zM582 355h2v1h-2zM580 356h2v1h-2zM578 357h2v1h-2zM576 358h2v1h-2zM573 359h3v1h-3zM571 360h2v1h-2zM569 361h2v1h-2zM567 362h2v1h-2zM564 363h3v1h-3zM562 364h2v1h-2zM560 365h2v1h-2zM558 366h2v1h-2zM556 367h2v1h-2zM553 368h3v1h-3zM551 369h2v1h-2zM549 370h2v1h-2zM547 371h2v1h-2zM545 372h2v1h-2zM542 373h3v1h-3zM540 374h2v1h-2zM537 375h3v1h-3zM535 376h2v1h-2zM532 377h3v1h-3zM529 378h3v1h-3zM527 379h2v1h-2zM524 380h3v1h-3zM522 381h2v1h-2zM519 382h3v1h-3zM517 383h2v1h-2zM514 384h3v1h-3zM511 385h3v1h-3zM509 386h2v1h-2zM506 387h3v1h-3zM504 388h2v1h-2zM502 389h2v1h-2zM500 390h2v1h-2zM498 391h2v1h-2zM496 392h2v1h-2zM494 393h2v1h-2zM492 394h2v1h-2zM490 395h2v1h-2zM488 396h2v1h-2zM486 397h2v1h-2zM484 398h2v1h-2zM482 399h2v1h-2zM481 400h1v1h-1zM479 401h2v1h-2zM477 402h2v1h-2zM475 403h2v1h-2zM473 404h2v1h-2zM471 405h2v1h-2zM469 406h2v1h-2zM467 407h2v1h-2zM465 408h2v1h-2zM463 409h2v1h-2zM461 410h2v1h-2zM459 411h2v1h-2zM457 412h2v1h-2zM455 413h2v1h-2zM453 414h2v1h-2zM451 415h2v1h-2zM449 416h2v1h-2zM447 417h2v1h-2zM445 418h2v1h-2zM443 419h2v1h-2zM441 420h2v1h-2zM439 421h2v1h-2zM437 422h2v1h-2zM435 423h2v1h-2zM433 424h2v1h-2zM431 425h2v1h-2zM429 426h2v1h-2zM427 427h2v1h-2zM425 428h2v1h-2zM423 429h2v1h-2zM421 430h2v1h-2zM418 431h3v1h-3zM416 432h2v1h-2zM414 433h2v1h-2zM411 434h3v1h-3zM409 435h2v1h-2zM407 436h2v1h-2zM404 437h3v1h-3zM402 438h2v1h-2zM400 439h2v1h-2zM397 440h3v1h-3zM395 441h2v1h-2zM393 442h2v1h-2zM390 443h3v1h-3zM388 444h2v1h-2zM386 445h2v1h-2zM383 446h3v1h-3zM381 447h2v1h-2zM379 448h2v1h-2zM376 449h3v1h-3zM372 450h4v1h-4zM369 451h3v1h-3zM366 452h3v1h-3zM362 453h4v1h-4zM359 454h3v1h-3zM355 455h4v1h-4zM352 456h3v1h-3zM348 457h4v1h-4zM345 458h3v1h-3zM342 459h3v1h-3zM338 460h4v1h-4zM336 461h2v1h-2zM335 462h1v1h-1zM335 463h1v1h-1zM334 464h1v1h-1zM333 465h1v1h-1zM333 466h1v1h-1zM332 467h1v1h-1zM332 468h1v1h-1zM331 469h1v1h-1zM330 470h1v1h-1zM330 471h1v1h-1zM329 472h1v1h-1zM328 473h1v1h-1zM328 474h1v1h-1zM327 475h1v1h-1zM327 476h1v1h-1zM326 477h1v1h-1zM325 478h1v1h-1zM325 479h1v1h-1zM324 480h1v1h-1zM323 481h1v1h-1zM323 482h1v1h-1zM322 483h1v1h-1zM321 484h1v1h-1zM321 485h1v1h-1zM320 486h1v1h-1zM320 487h1v1h-1zM319 488h1v1h-1zM318 489h1v1h-1zM318 490h1v1h-1zM317 491h1v1h-1zM316 492h1v1h-1zM316 493h1v1h-1zM315 494h1v1h-1zM315 495h1v1h-1zM314 496h1v1h-1zM313 497h1v1h-1zM313 498h1v1h-1zM312 499h1v1h-1zM311 500h1v1h-1zM311 501h1v1h-1zM310 502h1v1h-1zM310 503h1v1h-1zM309 504h1v1h-1zM308 505h1v1h-1zM308 506h1v1h-1zM307 507h1v1h-1zM306 508h1v1h-1zM306 509h1v1h-1zM305 510h1v1h-1zM304 511h1v1h-1zM304 512h1v1h-1zM303 513h1v1h-1zM303 514h1v1h-1zM302 515h1v1h-1zM301 516h1v1h-1zM301 517h1v1h-1zM300 518h1v1h-1zM299 519h1v1h-1zM299 520h1v1h-1zM298 521h1v1h-1zM298 522h1v1h-1zM297 523h1v1h-1zM296 524h1v1h-1zM296 525h1v1h-1zM295 526h1v1h-1zM293 527h2v1h-2zM292 528h1v1h-1zM290 529h2v1h-2zM289 530h1v1h-1zM287 531h2v1h-2zM286 532h1v1h-1zM284 533h2v1h-2zM283 534h1v1h-1zM281 535h2v1h-2zM280 536h1v1h-1zM278 537h2v1h-2zM277 538h1v1h-1zM275 539h2v1h-2zM274 540h1v1h-1zM272 541h2v1h-2zM271 542h1v1h-1zM269 543h2v1h-2zM268 544h1v1h-1zM266 545h2v1h-2zM265 546h1v1h-1zM263 547h2v1h-2zM262 548h1v1h-1zM260 549h2v1h-2zM259 550h1v1h-1zM257 551h2v1h-2zM256 552h1v1h-1zM254 553h2v1h-2zM253 554h1v1h-1z" fill="#00ffff"/><g fill="#ff0000"><use href="#mk" x="87" y="500"/><use href="#mk" x="129" y="500"/><use href="#mk" x="170" y="518"/><use href="#mk" x="212" y="518"/><use href="#mk" x="253" y="485"/><use href="#mk" x="295" y="464"/><use href="#mk" x="336" y="455"/><use href="#mk" x="377" y="448"/><use href="#mk" x="419" y="402"/><use href="#mk" x="460" y="382"/><use href="#mk" x="502" y="358"/><use href="#mk" x="543" y="339"/><use href="#mk" x="585" y="319"/><use href="#mk" x="626" y="297"/><use href="#mk" x="668" y="269"/><use href="#mk" x="709" y="239"/><use href="#mk" x="750" y="229"/><use href="#mk" x="792" y="217"/><use href="#mk" x="833" y="199"/><use href="#mk" x="875" y="199"/><use href="#mk" x="916" y="99"/><use href="#mk" x="958" y="65"/></g><g fill="#00ff00"><use href="#mk" x="87" y="497"/><use href="#mk" x="129" y="497"/><use href="#mk" x="170" y="497"/><use href="#mk" x="212" y="475"/><use href="#mk" x="253" y="475"/><use href="#mk" x="295" y="443"/><use href="#mk" x="336" y="434"/><use href="#mk" x="377" y="412"/><use href="#mk" x="419" y="393"/><use href="#mk" x="460" y="358"/><use href="#mk" x="502" y="332"/><use href="#mk" x="543" y="313"/><use href="#mk" x="585" y="292"/><use href="#mk" x="626" y="273"/><use href="#mk" x="668" y="250"/><use href="#mk" x="709" y="219"/><use href="#mk" x="750" y="186"/><use href="#mk" x="792" y="172"/><use href="#mk" x="833" y="172"/><use href="#mk" x="875" y="136"/><use href="#mk" x="916" y="136"/><use href="#mk" x="958" y="29"/></g><g fill="#0000ff"><use href="#mk" x="253" y="570"/><use href="#mk" x="295" y="546"/><use href="#mk" x="336" y="491"/><use href="#mk" x="377" y="479"/><use href="#mk" x="419" y="462"/><use href="#mk" x="460" y="439"/><use href="#mk" x="502" y="424"/><use href="#mk" x="543" y="413"/><use href="#mk" x="585" y="396"/><use href="#mk" x="626" y="376"/><use href="#mk" x="668" y="351"/><use href="#mk" x="709" y="318"/><use href="#mk" x="750" y="284"/><use href="#mk" x="792" y="271"/><use href="#mk" x="833" y="271"/><use href="#mk" x="875" y="221"/><use href="#mk" x="916" y="103"/><use href="#mk" x="958" y="103"/></g><g fill="#808000"><use href="#mk" x="253" y="548"/><use href="#mk" x="295" y="521"/><use href="#mk" x="336" y="456"/><use href="#mk" x="377" y="469"/><use href="#mk" x="419" y="451"/><use href="#mk" x="460" y="430"/><use href="#mk" x="502" y="347"/><use href="#mk" x="543" y="382"/><use href="#mk" x="585" y="340"/><use href="#mk" x="626" y="323"/><use href="#mk" x="668" y="301"/><use href="#mk" x="709" y="271"/><use href="#mk" x="750" y="240"/><use href="#mk" x="792" y="226"/><use href="#mk" x="833" y="226"/><use href="#mk" x="875" y="199"/><use href="#mk" x="916" y="165"/><use href="#mk" x="958" y="53"/></g><g fill="#ff00ff"><use href="#mk" x="253" y="548"/><use href="#mk" x="295" y="542"/><use href="#mk" x="336" y="476"/><use href="#mk" x="377" y="465"/><use href="#mk" x="419" y="447"/><use href="#mk" x="460" y="426"/><use href="#mk" x="502" y="402"/><use href="#mk" x="543" y="385"/><use href="#mk" x="585" y="365"/><use href="#mk" x="626" y="341"/><use href="#mk" x="668" y="318"/><use href="#mk" x="709" y="291"/><use href="#mk" x="750" y="262"/><use href="#mk" x="792" y="213"/><use href="#mk" x="833" y="213"/><use href="#mk" x="875" y="184"/><use href="#mk" x="916" y="184"/><use href="#mk" x="958" y="82"/></g><g fill="#00ffff"><use href="#mk" x="253" y="555"/><use href="#mk" x="295" y="527"/><use href="#mk" x="336" y="462"/><use href="#mk" x="377" y="450"/><use href="#mk" x="419" y="432"/><use href="#mk" x="460" y="412"/><use href="#mk" x="502" y="390"/><use href="#mk" x="543" y="374"/><use href="#mk" x="585" y="355"/><use href="#mk" x="626" y="340"/><use href="#mk" x="668" y="317"/><use href="#mk" x="709" y="289"/><use href="#mk" x="750" y="259"/><use href="#mk" x="792" y="215"/><use href="#mk" x="833" y="215"/><use href="#mk" x="875" y="185"/><use href="#mk" x="916" y="185"/><use href="#mk" x="958" y="112"/></g><g fill="#000080"><use href="#g4" x="74" y="488"/><use href="#g5" x="79" y="488"/><use href="#g3" x="84" y="488"/><use href="#g6" x="89" y="488"/><use href="#g8" x="94" y="488"/><use href="#g4" x="116" y="488"/><use href="#g5" x="121" y="488"/><use href="#g3" x="126" y="488"/><use href="#g6" x="131" y="488"/><use href="#g8" x="136" y="488"/><use href="#g4" x="157" y="506"/><use href="#g4" x="162" y="506"/><use href="#g2" x="167" y="506"/><use href="#g8" x="172" y="506"/><use href="#g8" x="177" y="506"/><use href="#g4" x="199" y="506"/><use href="#g4" x="204" y="506"/><use href="#g2" x="209" y="506"/><use href="#g8" x="214" y="506"/><use href="#g8" x="219" y="506"/><use href="#g4" x="240" y="473"/><use href="#g6" x="245" y="473"/><use href="#g2" x="250" y="473"/><use href="#g9" x="255" y="473"/><use href="#g5" x="260" y="473"/><use href="#g4" x="282" y="452"/><use href="#g7" x="287" y="452"/><use href="#g5" x="292" y="452"/><use href="#g9" x="297" y="452"/><use href="#g4" x="302" y="452"/><use href="#g4" x="323" y="443"/><use href="#g8" x="328" y="443"/><use href="#g1" x="333" y="443"/><use href="#g6" x="338" y="443"/><use href="#g5" x="343" y="443"/><use href="#g4" x="364" y="436"/><use href="#g8" x="369" y="436"/><use href="#g5" x="374" y="436"/><use href="#g9" x="379" y="436"/><use href="#g8" x="384" y="436"/><use href="#g5" x="406" y="390"/><use href="#g1" x="411" y="390"/><use href="#g4" x="416" y="390"/><use href="#g2" x="421" y="390"/><use href="#g9" x="426" y="390"/><use href="#g5" x="447" y="370"/><use href="#g2" x="452" y="370"/><use href="#g6" x="457" y="370"/><use href="#g7" x="462" y="370"/><use href="#g1" x="467" y="370"/><use href="#g5" x="489" y="346"/><use href="#g4" x="494" y="346"/><use href="#g1" x="499" y="346"/><use href="#g4" x="504" y="346"/><use href="#g5" x="509" y="346"/><use href="#g5" x="530" y="327"/><use href="#g5" x="535" y="327"/><use href="#g3" x="540" y="327"/><use href="#g3" x="545" y="327"/><use href="#g7" x="550" y="327"/><use href="#g5" x="572" y="307"/><use href="#g6" x="577" y="307"/><use href="#g5" x="582" y="307"/><use href="#g5" x="587" y="307"/><use href="#g4" x="592" y="307"/><use href="#g5" x="613" y="285"/><use href="#g7" x="618" y="285"/><use href="#g8" x="623" y="285"/><use href="#g8" x="628" y="285"/><use href="#g3" x="633" y="285"/><use href="#g5" x="655" y="257"/><use href="#g9" x="660" y="257"/><use href="#g6" x="665" y="257"/><use href="#g1" x="670" y="257"/><use href="#g4" x="675" y="257"/><use href="#g6" x="696" y="227"/><use href="#g1" x="701" y="227"/><use href="#g4" x="706" y="227"/><use href="#g5" x="711" y="227"/><use href="#g6" x="716" y="227"/><use href="#g6" x="737" y="217"/><use href="#g2" x="742" y="217"/><use href="#g1" x="747" y="217"/><use href="#g0" x="752" y="217"/><use href="#g8" x="757" y="217"/><use href="#g6" x="779" y="205"/><use href="#g2" x="784" y="205"/><use href="#g8" x="789" y="205"/><use href="#g5" x="794" y="205"/><use href="#g3" x="799" y="205"/><use href="#g6" x="820" y="187"/><use href="#g3" x="825" y="187"/><use href="#g9" x="830" y="187"/><use href="#g8" x="835" y="187"/><use href="#g5" x="840" y="187"/><use href="#g6" x="862" y="187"/><use href="#g3" x="867" y="187"/><use href="#g9" x="872" y="187"/><use href="#g8" x="877" y="187"/><use href="#g5" x="882" y="187"/><use href="#g7" x="903" y="87"/><use href="#g0" x="908" y="87"/><use href="#g1" x="913" y="87"/><use href="#g0" x="918" y="87"/><use href="#g9" x="923" y="87"/><use href="#g7" x="945" y="53"/><use href="#g2" x="950" y="53"/><use href="#g2" x="955" y="53"/><use href="#g1" x="960" y="53"/><use href="#g2" x="965" y="53"/><use href="#g4" x="74" y="485"/><use href="#g5" x="79" y="485"/><use href="#g5" x="84" y="485"/><use href="#g8" x="89" y="485"/><use href="#g6" x="94" y="485"/><use href="#g4" x="116" y="485"/><use href="#g5" x="121" y="485"/><use href="#g5" x="126" y="485"/><use href="#g8" x="131" y="485"/><use href="#g6" x="136" y="485"/><use href="#g4" x="157" y="485"/><use href="#g5" x="162" y="485"/><use href="#g5" x="167" y="485"/><use href="#g8" x="172" y="485"/><use href="#g6" x="177" y="485"/><use href="#g4" x="199" y="463"/><use href="#g6" x="204" y="463"/><use href="#g9" x="209" y="463"/><use href="#g5" x="214" y="463"/><use href="#g3" x="219" y="463"/><use href="#g4" x="240" y="463"/><use href="#g6" x="245" y="463"/><use href="#g9" x="250" y="463"/><use href="#g5" x="255" y="463"/><use href="#g3" x="260" y="463"/><use href="#g4" x="282" y="431"/><use href="#g8" x="287" y="431"/><use href="#g8" x="292" y="431"/><use href="#g8" x="297" y="431"/><use href="#g3" x="302" y="431"/><use href="#g4" x="323" y="422"/><use href="#g9" x="328" y="422"/><use href="#g4" x="333" y="422"/><use href="#g7" x="338" y="422"/><use href="#g0" x="343" y="422"/><use href="#g5" x="364" y="400"/><use href="#g0" x="369" y="400"/><use href="#g7" x="374" y="400"/><use href="#g8" x="379" y="400"/><use href="#g8" x="384" y="400"/><use href="#g5" x="406" y="381"/><use href="#g1" x="411" y="381"/><use href="#g9" x="416" y="381"/><use href="#g6" x="421" y="381"/><use href="#g8" x="426" y="381"/><use href="#g5" x="447" y="346"/><use href="#g4" x="452" y="346"/><use href="#g1" x="457" y="346"/><use href="#g4" x="462" y="346"/><use href="#g5" x="467" y="346"/><use href="#g5" x="489" y="320"/><use href="#g5" x="494" y="320"/><use href="#g7" x="499" y="320"/><use href="#g4" x="504" y="320"/><use href="#g1" x="509" y="320"/><use href="#g5" x="530" y="301"/><use href="#g6" x="535" y="301"/><use href="#g9" x="540" y="301"/><use href="#g1" x="545" y="301"/><use href="#g1" x="550" y="301"/><use href="#g5" x="572" y="280"/><use href="#g8" x="577" y="280"/><use href="#g2" x="582" y="280"/><use href="#g2" x="587" y="280"/><use href="#g0" x="592" y="280"/><use href="#g5" x="613" y="261"/><use href="#g9" x="618" y="261"/><use href="#g3" x="623" y="261"/><use href="#g8" x="628" y="261"/><use href="#g4" x="633" y="261"/><use href="#g6" x="655" y="238"/><use href="#g0" x="660" y="238"/><use href="#g7" x="665" y="238"/><use href="#g7" x="670" y="238"/><use href="#g9" x="675" y="238"/><use href="#g6" x="696" y="207"/><use href="#g2" x="701" y="207"/><use href="#g7" x="706" y="207"/><use href="#g2" x="711" y="207"/><use href="#g3" x="716" y="207"/><use href="#g6" x="737" y="174"/><use href="#g4" x="742" y="174"/><use href="#g7" x="747" y="174"/><use href="#g2" x="752" y="174"/><use href="#g9" x="757" y="174"/><use href="#g6" x="779" y="160"/><use href="#g5" x="784" y="160"/><use href="#g6" x="789" y="160"/><use href="#g3" x="794" y="160"/><use href="#g5" x="799" y="160"/><use href="#g6" x="820" y="160"/><use href="#g5" x="825" y="160"/><use href="#g6" x="830" y="160"/><use href="#g3" x="835" y="160"/><use href="#g5" x="840" y="160"/><use href="#g6" x="862" y="124"/><use href="#g7" x="867" y="124"/><use href="#g8" x="872" y="124"/><use href="#g2" x="877" y="124"/><use href="#g2" x="882" y="124"/><use href="#g6" x="903" y="124"/><use href="#g7" x="908" y="124"/><use href="#g8" x="913" y="124"/><use href="#g2" x="918" y="124"/><use href="#g2" x="923" y="124"/><use href="#g7" x="945" y="17"/><use href="#g4" x="950" y="17"/><use href="#g4" x="955" y="17"/><use href="#g1" x="960" y="17"/><use href="#g7" x="965" y="17"/><use href="#g4" x="240" y="558"/><use href="#g1" x="245" y="558"/><use href="#g0" x="250" y="558"/><use href="#g6" x="255" y="558"/><use href="#g7" x="260" y="558"/><use href="#g4" x="282" y="534"/><use href="#g2" x="287" y="534"/><use href="#g5" x="292" y="534"/><use href="#g1" x="297" y="534"/><use href="#g2" x="302" y="534"/><use href="#g4" x="323" y="479"/><use href="#g5" x="328" y="479"/><use href="#g9" x="333" y="479"/><use href="#g6" x="338" y="479"/><use href="#g4" x="343" y="479"/><use href="#g4" x="364" y="467"/><use href="#g6" x="369" y="467"/><use href="#g6" x="374" y="467"/><use href="#g5" x="379" y="467"/><use href="#g3" x="384" y="467"/><use href="#g4" x="406" y="450"/><use href="#g7" x="411" y="450"/><use href="#g7" x="416" y="450"/><use href="#g4" x="421" y="450"/><use href="#g4" x="426" y="450"/><use href="#g4" x="447" y="427"/><use href="#g9" x="452" y="427"/><use href="#g1" x="457" y="427"/><use href="#g6" x="462" y="427"/><use href="#g5" x="467" y="427"/><use href="#g5" x="489" y="412"/><use href="#g0" x="494" y="412"/><use href="#g0" x="499" y="412"/><use href="#g5" x="504" y="412"/><use href="#g1" x="509" y="412"/><use href="#g5" x="530" y="401"/><use href="#g0" x="535" y="401"/><use href="#g7" x="540" y="401"/><use href="#g2" x="545" y="401"/><use href="#g2" x="550" y="401"/><use href="#g5" x="572" y="384"/><use href="#g1" x="577" y="384"/><use href="#g7" x="582" y="384"/><use href="#g8" x="587" y="384"/><use href="#g7" x="592" y="384"/><use href="#g5" x="613" y="364"/><use href="#g3" x="618" y="364"/><use href="#g0" x="623" y="364"/><use href="#g5" x="628" y="364"/><use href="#g6" x="633" y="364"/><use href="#g5" x="655" y="339"/><use href="#g4" x="660" y="339"/><use href="#g5" x="665" y="339"/><use href="#g6" x="670" y="339"/><use href="#g3" x="675" y="339"/><use href="#g5" x="696" y="306"/><use href="#g6" x="701" y="306"/><use href="#g5" x="706" y="306"/><use href="#g8" x="711" y="306"/><use href="#g7" x="716" y="306"/><use href="#g5" x="737" y="272"/><use href="#g8" x="742" y="272"/><use href="#g6" x="747" y="272"/><use href="#g8" x="752" y="272"/><use href="#g1" x="757" y="272"/><use href="#g5" x="779" y="259"/><use href="#g9" x="784" y="259"/><use href="#g5" x="789" y="259"/><use href="#g0" x="794" y="259"/><use href="#g2" x="799" y="259"/><use href="#g5" x="820" y="259"/><use href="#g9" x="825" y="259"/><use href="#g5" x="830" y="259"/><use href="#g0" x="835" y="259"/><use href="#g2" x="840" y="259"/><use href="#g6" x="862" y="209"/><use href="#g2" x="867" y="209"/><use href="#g6" x="872" y="209"/><use href="#g1" x="877" y="209"/><use href="#g2" x="882" y="209"/><use href="#g6" x="903" y="91"/><use href="#g9" x="908" y="91"/><use href="#g8" x="913" y="91"/><use href="#g7" x="918" y="91"/><use href="#g3" x="923" y="91"/><use href="#g6" x="945" y="91"/><use href="#g9" x="950" y="91"/><use href="#g8" x="955" y="91"/><use href="#g7" x="960" y="91"/><use href="#g3" x="965" y="91"/><use href="#g4" x="240" y="536"/><use href="#g2" x="245" y="536"/><use href="#g4" x="250" y="536"/><use href="#g2" x="255" y="536"/><use href="#g0" x="260" y="536"/><use href="#g4" x="282" y="509"/><use href="#g4" x="287" y="509"/><use href="#g1" x="292" y="509"/><use href="#g0" x="297" y="509"/><use href="#g3" x="302" y="509"/><use href="#g4" x="323" y="444"/><use href="#g8" x="328" y="444"/><use href="#g0" x="333" y="444"/><use href="#g8" x="338" y="444"/><use href="#g5" x="343" y="444"/><use href="#g4" x="364" y="457"/><use href="#g7" x="369" y="457"/><use href="#g3" x="374" y="457"/><use href="#g0" x="379" y="457"/><use href="#g9" x="384" y="457"/><use href="#g4" x="406" y="439"/><use href="#g8" x="411" y="439"/><use href="#g4" x="416" y="439"/><use href="#g1" x="421" y="439"/><use href="#g1" x="426" y="439"/><use href="#g4" x="447" y="418"/><use href="#g9" x="452" y="418"/><use href="#g6" x="457" y="418"/><use href="#g8" x="462" y="418"/><use href="#g4" x="467" y="418"/><use href="#g5" x="489" y="335"/><use href="#g4" x="494" y="335"/><use href="#g8" x="499" y="335"/><use href="#g1" x="504" y="335"/><use href="#g0" x="509" y="335"/><use href="#g5" x="530" y="370"/><use href="#g2" x="535" y="370"/><use href="#g6" x="540" y="370"/><use href="#g4" x="545" y="370"/><use href="#g4" x="550" y="370"/><use href="#g5" x="572" y="328"/><use href="#g5" x="577" y="328"/><use href="#g2" x="582" y="328"/><use href="#g2" x="587" y="328"/><use href="#g6" x="592" y="328"/><use href="#g5" x="613" y="311"/><use href="#g6" x="618" y="311"/><use href="#g3" x="623" y="311"/><use href="#g3" x="628" y="311"/><use href="#g1" x="633" y="311"/><use href="#g5" x="655" y="289"/><use href="#g7" x="660" y="289"/><use href="#g6" x="665" y="289"/><use href="#g5" x="670" y="289"/><use href="#g5" x="675" y="289"/><use href="#g5" x="696" y="259"/><use href="#g9" x="701" y="259"/><use href="#g5" x="706" y="259"/><use href="#g0" x="711" y="259"/><use href="#g0" x="716" y="259"/><use href="#g6" x="737" y="228"/><use href="#g1" x="742" y="228"/><use href="#g4" x="747" y="228"/><use href="#g0" x="752" y="228"/><use href="#g4" x="757" y="228"/><use href="#g6" x="779" y="214"/><use href="#g2" x="784" y="214"/><use href="#g2" x="789" y="214"/><use href="#g6" x="794" y="214"/><use href="#g3" x="799" y="214"/><use href="#g6" x="820" y="214"/><use href="#g2" x="825" y="214"/><use href="#g2" x="830" y="214"/><use href="#g6" x="835" y="214"/><use href="#g3" x="840" y="214"/><use href="#g6" x="862" y="187"/><use href="#g3" x="867" y="187"/><use href="#g9" x="872" y="187"/><use href="#g4" x="877" y="187"/><use href="#g5" x="882" y="187"/><use href="#g6" x="903" y="153"/><use href="#g6" x="908" y="153"/><use href="#g0" x="913" y="153"/><use href="#g2" x="918" y="153"/><use href="#g6" x="923" y="153"/><use href="#g7" x="945" y="41"/><use href="#g2" x="950" y="41"/><use href="#g9" x="955" y="41"/><use href="#g7" x="960" y="41"/><use href="#g3" x="965" y="41"/><use href="#g4" x="240" y="536"/><use href="#g2" x="245" y="536"/><use href="#g4" x="250" y="536"/><use href="#g1" x="255" y="536"/><use href="#g8" x="260" y="536"/><use href="#g4" x="282" y="530"/><use href="#g2" x="287" y="530"/><use href="#g8" x="292" y="530"/><use href="#g1" x="297" y="530"/><use href="#g7" x="302" y="530"/><use href="#g4" x="323" y="464"/><use href="#g6" x="328" y="464"/><use href="#g8" x="333" y="464"/><use href="#g4" x="338" y="464"/><use href="#g4" x="343" y="464"/><use href="#g4" x="364" y="453"/><use href="#g7" x="369" y="453"/><use href="#g5" x="374" y="453"/><use href="#g4" x="379" y="453"/><use href="#g7" x="384" y="453"/><use href="#g4" x="406" y="435"/><use href="#g8" x="411" y="435"/><use href="#g6" x="416" y="435"/><use href="#g5" x="421" y="435"/><use href="#g4" x="426" y="435"/><use href="#g4" x="447" y="414"/><use href="#g9" x="452" y="414"/><use href="#g9" x="457" y="414"/><use href="#g4" x="462" y="414"/><use href="#g3" x="467" y="414"/><use href="#g5" x="489" y="390"/><use href="#g1" x="494" y="390"/><use href="#g4" x="499" y="390"/><use href="#g1" x="504" y="390"/><use href="#g7" x="509" y="390"/><use href="#g5" x="530" y="373"/><use href="#g2" x="535" y="373"/><use href="#g4" x="540" y="373"/><use href="#g9" x="545" y="373"/><use href="#g7" x="550" y="373"/><use href="#g5" x="572" y="353"/><use href="#g3" x="577" y="353"/><use href="#g7" x="582" y="353"/><use href="#g0" x="587" y="353"/><use href="#g4" x="592" y="353"/><use href="#g5" x="613" y="329"/><use href="#g5" x="618" y="329"/><use href="#g1" x="623" y="329"/><use href="#g7" x="628" y="329"/><use href="#g8" x="633" y="329"/><use href="#g5" x="655" y="306"/><use href="#g6" x="660" y="306"/><use href="#g6" x="665" y="306"/><use href="#g0" x="670" y="306"/><use href="#g5" x="675" y="306"/><use href="#g5" x="696" y="279"/><use href="#g8" x="701" y="279"/><use href="#g2" x="706" y="279"/><use href="#g8" x="711" y="279"/><use href="#g8" x="716" y="279"/><use href="#g6" x="737" y="250"/><use href="#g0" x="742" y="250"/><use href="#g0" x="747" y="250"/><use href="#g6" x="752" y="250"/><use href="#g7" x="757" y="250"/><use href="#g6" x="779" y="201"/><use href="#g3" x="784" y="201"/><use href="#g1" x="789" y="201"/><use href="#g1" x="794" y="201"/><use href="#g7" x="799" y="201"/><use href="#g6" x="820" y="201"/><use href="#g3" x="825" y="201"/><use href="#g1" x="830" y="201"/><use href="#g1" x="835" y="201"/><use href="#g7" x="840" y="201"/><use href="#g6" x="862" y="172"/><use href="#g4" x="867" y="172"/><use href="#g8" x="872" y="172"/><use href="#g6" x="877" y="172"/><use href="#g3" x="882" y="172"/><use href="#g6" x="903" y="172"/><use href="#g4" x="908" y="172"/><use href="#g8" x="913" y="172"/><use href="#g6" x="918" y="172"/><use href="#g3" x="923" y="172"/><use href="#g7" x="945" y="70"/><use href="#g1" x="950" y="70"/><use href="#g1" x="955" y="70"/><use href="#g9" x="960" y="70"/><use href="#g2" x="965" y="70"/><use href="#g4" x="240" y="543"/><use href="#g2" x="245" y="543"/><use href="#g0" x="250" y="543"/><use href="#g1" x="255" y="543"/><use href="#g3" x="260" y="543"/><use href="#g4" x="282" y="515"/><use href="#g3" x="287" y="515"/><use href="#g7" x="292" y="515"/><use href="#g3" x="297" y="515"/><use href="#g1" x="302" y="515"/><use href="#g4" x="323" y="450"/><use href="#g7" x="328" y="450"/><use href="#g7" x="333" y="450"/><use href="#g4" x="338" y="450"/><use href="#g0" x="343" y="450"/><use href="#g4" x="364" y="438"/><use href="#g8" x="369" y="438"/><use href="#g4" x="374" y="438"/><use href="#g9" x="379" y="438"/><use href="#g0" x="384" y="438"/><use href="#g4" x="406" y="420"/><use href="#g9" x="411" y="420"/><use href="#g5" x="416" y="420"/><use href="#g8" x="421" y="420"/><use href="#g0" x="426" y="420"/><use href="#g5" x="447" y="400"/><use href="#g0" x="452" y="400"/><use href="#g7" x="457" y="400"/><use href="#g9" x="462" y="400"/><use href="#g5" x="467" y="400"/><use href="#g5" x="489" y="378"/><use href="#g2" x="494" y="378"/><use href="#g1" x="499" y="378"/><use href="#g9" x="504" y="378"/><use href="#g2" x="509" y="378"/><use href="#g5" x="530" y="362"/><use href="#g3" x="535" y="362"/><use href="#g1" x="540" y="362"/><use href="#g8" x="545" y="362"/><use href="#g4" x="550" y="362"/><use href="#g5" x="572" y="343"/><use href="#g4" x="577" y="343"/><use href="#g3" x="582" y="343"/><use href="#g0" x="587" y="343"/><use href="#g0" x="592" y="343"/><use href="#g5" x="613" y="328"/><use href="#g5" x="618" y="328"/><use href="#g2" x="623" y="328"/><use href="#g7" x="628" y="328"/><use href="#g0" x="633" y="328"/><use href="#g5" x="655" y="305"/><use href="#g6" x="660" y="305"/><use href="#g6" x="665" y="305"/><use href="#g7" x="670" y="305"/><use href="#g7" x="675" y="305"/><use href="#g5" x="696" y="277"/><use href="#g8" x="701" y="277"/><use href="#g3" x="706" y="277"/><use href="#g8" x="711" y="277"/><use href="#g0" x="716" y="277"/><use href="#g6" x="737" y="247"/><use href="#g0" x="742" y="247"/><use href="#g2" x="747" y="247"/><use href="#g5" x="752" y="247"/><use href="#g6" x="757" y="247"/><use href="#g6" x="779" y="203"/><use href="#g2" x="784" y="203"/><use href="#g9" x="789" y="203"/><use href="#g7" x="794" y="203"/><use href="#g1" x="799" y="203"/><use href="#g6" x="820" y="203"/><use href="#g2" x="825" y="203"/><use href="#g9" x="830" y="203"/><use href="#g7" x="835" y="203"/><use href="#g1" x="840" y="203"/><use href="#g6" x="862" y="173"/><use href="#g4" x="867" y="173"/><use href="#g8" x="872" y="173"/><use href="#g4" x="877" y="173"/><use href="#g3" x="882" y="173"/><use href="#g6" x="903" y="173"/><use href="#g4" x="908" y="173"/><use href="#g8" x="913" y="173"/><use href="#g4" x="918" y="173"/><use href="#g3" x="923" y="173"/><use href="#g6" x="945" y="100"/><use href="#g9" x="950" y="100"/><use href="#g3" x="955" y="100"/><use href="#g5" x="960" y="100"/><use href="#g1" x="965" y="100"/></g><path d="M222 594h13v2h-13zM226 593h5v5h-5zM228 592h1v7h-1z" fill="#ff0000"/><g fill="#000080"><use href="#g10" x="238" y="591"/><use href="#g14" x="243" y="591"/><use href="#g15" x="248" y="591"/><use href="#g16" x="253" y="591"/></g><path d="M316 594h13v2h-13zM320 593h5v5h-5zM322 592h1v7h-1z" fill="#00ff00"/><g fill="#000080"><use href="#g10" x="332" y="591"/><use href="#g17" x="337" y="591"/><use href="#g18" x="342" y="591"/><use href="#g19" x="347" y="591"/><use href="#g20" x="352" y="591"/><use href="#g15" x="357" y="591"/></g><path d="M410 594h13v2h-13zM414 593h5v5h-5zM416 592h1v7h-1z" fill="#0000ff"/><g fill="#000080"><use href="#g10" x="426" y="591"/><use href="#g20" x="431" y="591"/><use href="#g17" x="436" y="591"/><use href="#g15" x="441" y="591"/><use href="#g16" x="446" y="591"/><use href="#g19" x="451" y="591"/><use href="#g15" x="456" y="591"/><use href="#g21" x="461" y="591"/><use href="#g14" x="466" y="591"/><use href="#g20" x="471" y="591"/><use href="#g22" x="476" y="591"/></g><path d="M504 594h13v2h-13zM508 593h5v5h-5zM510 592h1v7h-1z" fill="#808000"/><g fill="#000080"><use href="#g11" x="520" y="591"/><use href="#g17" x="525" y="591"/><use href="#g23" x="530" y="591"/><use href="#g24" x="535" y="591"/><use href="#g25" x="540" y="591"/><use href="#g19" x="545" y="591"/><use href="#g15" x="550" y="591"/></g><path d="M598 594h13v2h-13zM602 593h5v5h-5zM604 592h1v7h-1z" fill="#ff00ff"/><g fill="#000080"><use href="#g11" x="614" y="591"/><use href="#g17" x="619" y="591"/><use href="#g23" x="624" y="591"/><use href="#g24" x="629" y="591"/><use href="#g25" x="634" y="591"/><use href="#g19" x="639" y="591"/><use href="#g15" x="644" y="591"/><use href="#g26" x="649" y="591"/><use href="#g12" x="654" y="591"/><use href="#g15" x="659" y="591"/><use href="#g24" x="664" y="591"/><use href="#g17" x="669" y="591"/><use href="#g27" x="674" y="591"/><use href="#g28" x="679" y="591"/></g><path d="M692 594h13v2h-13zM696 593h5v5h-5zM698 592h1v7h-1z" fill="#00ffff"/><g fill="#000080"><use href="#g13" x="708" y="591"/><use href="#g24" x="713" y="591"/><use href="#g29" x="718" y="591"/><use href="#g20" x="723" y="591"/><use href="#g30" x="728" y="591"/><use href="#g15" x="733" y="591"/><use href="#g22" x="738" y="591"/><use href="#g19" x="743" y="591"/><use href="#g15" x="748" y="591"/></g><path d="M343 3h5v1h-5zM343 4h1v1h-1zM348 4h1v1h-1zM343 5h1v1h-1zM348 5h1v1h-1zM343 6h1v1h-1zM348 6h1v1h-1zM343 7h5v1h-5zM343 8h1v1h-1zM348 8h1v1h-1zM343 9h1v1h-1zM348 9h1v1h-1zM343 10h1v1h-1zM348 10h1v1h-1zM343 11h1v1h-1zM348 11h1v1h-1zM343 12h5v1h-5zM352 6h4v1h-4zM351 7h1v1h-1zM356 7h1v1h-1zM351 8h1v1h-1zM356 8h1v1h-1zM351 9h6v1h-6zM351 10h1v1h-1zM351 11h1v1h-1zM352 12h4v1h-4zM360 6h4v1h-4zM359 7h1v1h-1zM364 7h1v1h-1zM359 8h1v1h-1zM360 9h4v1h-4zM364 10h1v1h-1zM359 11h1v1h-1zM364 11h1v1h-1zM360 12h4v1h-4zM368 6h4v1h-4zM367 7h1v1h-1zM372 7h1v1h-1zM367 8h1v1h-1zM372 8h1v1h-1zM367 9h1v1h-1zM372 9h1v1h-1zM367 10h1v1h-1zM372 10h1v1h-1zM367 11h1v1h-1zM372 11h1v1h-1zM368 12h4v1h-4zM376 3h2v1h-2zM377 4h1v1h-1zM377 5h1v1h-1zM377 6h1v1h-1zM377 7h1v1h-1zM377 8h1v1h-1zM377 9h1v1h-1zM377 10h1v1h-1zM377 11h1v1h-1zM375 12h5v1h-5zM388 3h1v1h-1zM388 4h1v1h-1zM388 5h1v1h-1zM384 6h3v1h-3zM388 6h1v1h-1zM383 7h1v1h-1zM387 7h2v1h-2zM383 8h1v1h-1zM388 8h1v1h-1zM383 9h1v1h-1zM388 9h1v1h-1zM383 10h1v1h-1zM388 10h1v1h-1zM383 11h1v1h-1zM387 11h2v1h-2zM384 12h3v1h-3zM388 12h1v1h-1zM391 6h1v1h-1zM396 6h1v1h-1zM391 7h1v1h-1zM396 7h1v1h-1zM391 8h1v1h-1zM396 8h1v1h-1zM391 9h1v1h-1zM396 9h1v1h-1zM391 10h1v1h-1zM396 10h1v1h-1zM391 11h1v1h-1zM395 11h2v1h-2zM392 12h3v1h-3zM396 12h1v1h-1zM399 6h1v1h-1zM401 6h3v1h-3zM399 7h2v1h-2zM404 7h1v1h-1zM399 8h1v1h-1zM404 8h1v1h-1zM399 9h1v1h-1zM404 9h1v1h-1zM399 10h1v1h-1zM404 10h1v1h-1zM399 11h1v1h-1zM404 11h1v1h-1zM399 12h1v1h-1zM404 12h1v1h-1zM412 5h1v1h-1zM408 6h5v1h-5zM407 7h1v1h-1zM411 7h1v1h-1zM407 8h1v1h-1zM411 8h1v1h-1zM408 9h3v1h-3zM407 10h1v1h-1zM407 11h1v1h-1zM408 12h4v1h-4zM407 13h1v1h-1zM412 13h1v1h-1zM407 14h1v1h-1zM412 14h1v1h-1zM408 15h4v1h-4zM416 6h4v1h-4zM415 7h1v1h-1zM420 7h1v1h-1zM415 8h1v1h-1zM416 9h4v1h-4zM420 10h1v1h-1zM415 11h1v1h-1zM420 11h1v1h-1zM416 12h4v1h-4zM423 6h1v1h-1zM428 6h1v1h-1zM423 7h1v1h-1zM428 7h1v1h-1zM423 8h1v1h-1zM428 8h1v1h-1zM424 9h1v1h-1zM427 9h1v1h-1zM424 10h1v1h-1zM427 10h1v1h-1zM425 11h2v1h-2zM425 12h2v1h-2zM432 6h4v1h-4zM431 7h1v1h-1zM436 7h1v1h-1zM431 8h1v1h-1zM436 8h1v1h-1zM431 9h6v1h-6zM431 10h1v1h-1zM431 11h1v1h-1zM432 12h4v1h-4zM439 6h1v1h-1zM441 6h3v1h-3zM439 7h2v1h-2zM444 7h1v1h-1zM439 8h1v1h-1zM439 9h1v1h-1zM439 10h1v1h-1zM439 11h1v1h-1zM439 12h1v1h-1zM452 5h1v1h-1zM448 6h5v1h-5zM447 7h1v1h-1zM451 7h1v1h-1zM447 8h1v1h-1zM451 8h1v1h-1zM448 9h3v1h-3zM447 10h1v1h-1zM447 11h1v1h-1zM448 12h4v1h-4zM447 13h1v1h-1zM452 13h1v1h-1zM447 14h1v1h-1zM452 14h1v1h-1zM448 15h4v1h-4zM456 3h2v1h-2zM457 4h1v1h-1zM457 5h1v1h-1zM457 6h1v1h-1zM457 7h1v1h-1zM457 8h1v1h-1zM457 9h1v1h-1zM457 10h1v1h-1zM457 11h1v1h-1zM455 12h5v1h-5zM464 6h4v1h-4zM463 7h1v1h-1zM468 7h1v1h-1zM463 8h1v1h-1zM468 8h1v1h-1zM463 9h6v1h-6zM463 10h1v1h-1zM463 11h1v1h-1zM464 12h4v1h-4zM473 3h1v1h-1zM473 4h1v1h-1zM472 6h2v1h-2zM473 7h1v1h-1zM473 8h1v1h-1zM473 9h1v1h-1zM473 10h1v1h-1zM473 11h1v1h-1zM471 12h5v1h-5zM480 6h4v1h-4zM479 7h1v1h-1zM484 7h1v1h-1zM479 8h1v1h-1zM479 9h1v1h-1zM479 10h1v1h-1zM479 11h1v1h-1zM484 11h1v1h-1zM480 12h4v1h-4zM487 3h1v1h-1zM487 4h1v1h-1zM487 5h1v1h-1zM487 6h1v1h-1zM489 6h3v1h-3zM487 7h2v1h-2zM492 7h1v1h-1zM487 8h1v1h-1zM492 8h1v1h-1zM487 9h1v1h-1zM492 9h1v1h-1zM487 10h1v1h-1zM492 10h1v1h-1zM487 11h1v1h-1zM492 11h1v1h-1zM487 12h1v1h-1zM492 12h1v1h-1zM504 3h4v1h-4zM503 4h1v1h-1zM508 4h1v1h-1zM503 5h1v1h-1zM508 5h1v1h-1zM503 6h1v1h-1zM504 7h2v1h-2zM506 8h2v1h-2zM508 9h1v1h-1zM503 10h1v1h-1zM508 10h1v1h-1zM503 11h1v1h-1zM508 11h1v1h-1zM504 12h4v1h-4zM512 6h4v1h-4zM511 7h1v1h-1zM516 7h1v1h-1zM516 8h1v1h-1zM512 9h5v1h-5zM511 10h1v1h-1zM516 10h1v1h-1zM511 11h1v1h-1zM515 11h2v1h-2zM512 12h3v1h-3zM516 12h1v1h-1zM520 6h4v1h-4zM519 7h1v1h-1zM524 7h1v1h-1zM519 8h1v1h-1zM519 9h1v1h-1zM519 10h1v1h-1zM519 11h1v1h-1zM524 11h1v1h-1zM520 12h4v1h-4zM527 3h1v1h-1zM527 4h1v1h-1zM527 5h1v1h-1zM527 6h1v1h-1zM529 6h3v1h-3zM527 7h2v1h-2zM532 7h1v1h-1zM527 8h1v1h-1zM532 8h1v1h-1zM527 9h1v1h-1zM532 9h1v1h-1zM527 10h1v1h-1zM532 10h1v1h-1zM527 11h1v1h-1zM532 11h1v1h-1zM527 12h1v1h-1zM532 12h1v1h-1zM536 6h4v1h-4zM535 7h1v1h-1zM540 7h1v1h-1zM535 8h1v1h-1zM536 9h4v1h-4zM540 10h1v1h-1zM535 11h1v1h-1zM540 11h1v1h-1zM536 12h4v1h-4zM544 6h4v1h-4zM543 7h1v1h-1zM548 7h1v1h-1zM543 8h1v1h-1zM548 8h1v1h-1zM543 9h6v1h-6zM543 10h1v1h-1zM543 11h1v1h-1zM544 12h4v1h-4zM551 6h1v1h-1zM553 6h3v1h-3zM551 7h2v1h-2zM556 7h1v1h-1zM551 8h1v1h-1zM556 8h1v1h-1zM551 9h1v1h-1zM556 9h1v1h-1zM551 10h1v1h-1zM556 10h1v1h-1zM551 11h1v1h-1zM556 11h1v1h-1zM551 12h1v1h-1zM556 12h1v1h-1zM566 3h1v1h-1zM572 3h1v1h-1zM566 4h1v1h-1zM572 4h1v1h-1zM566 5h1v1h-1zM572 5h1v1h-1zM566 6h1v1h-1zM569 6h1v1h-1zM572 6h1v1h-1zM566 7h1v1h-1zM569 7h1v1h-1zM572 7h1v1h-1zM566 8h1v1h-1zM569 8h1v1h-1zM572 8h1v1h-1zM566 9h1v1h-1zM569 9h1v1h-1zM572 9h1v1h-1zM566 10h1v1h-1zM569 10h1v1h-1zM572 10h1v1h-1zM566 11h1v1h-1zM568 11h1v1h-1zM570 11h1v1h-1zM572 11h1v1h-1zM567 12h1v1h-1zM571 12h1v1h-1zM586 3h1v1h-1zM585 4h2v1h-2zM584 5h1v1h-1zM586 5h1v1h-1zM586 6h1v1h-1zM586 7h1v1h-1zM586 8h1v1h-1zM586 9h1v1h-1zM586 10h1v1h-1zM586 11h1v1h-1zM584 12h5v1h-5zM601 3h2v1h-2zM600 4h1v1h-1zM603 4h1v1h-1zM599 5h1v1h-1zM604 5h1v1h-1zM599 6h1v1h-1zM604 6h1v1h-1zM599 7h1v1h-1zM604 7h1v1h-1zM599 8h6v1h-6zM599 9h1v1h-1zM604 9h1v1h-1zM599 10h1v1h-1zM604 10h1v1h-1zM599 11h1v1h-1zM604 11h1v1h-1zM599 12h1v1h-1zM604 12h1v1h-1zM607 6h1v1h-1zM609 6h3v1h-3zM607 7h2v1h-2zM612 7h1v1h-1zM607 8h1v1h-1zM612 8h1v1h-1zM607 9h1v1h-1zM612 9h1v1h-1zM607 10h1v1h-1zM612 10h1v1h-1zM607 11h1v1h-1zM612 11h1v1h-1zM607 12h1v1h-1zM612 12h1v1h-1zM617 3h3v1h-3zM616 4h1v1h-1zM620 4h1v1h-1zM616 5h1v1h-1zM616 6h1v1h-1zM615 7h5v1h-5zM616 8h1v1h-1zM616 9h1v1h-1zM616 10h1v1h-1zM616 11h1v1h-1zM616 12h1v1h-1zM624 6h4v1h-4zM623 7h1v1h-1zM628 7h1v1h-1zM628 8h1v1h-1zM624 9h5v1h-5zM623 10h1v1h-1zM628 10h1v1h-1zM623 11h1v1h-1zM627 11h2v1h-2zM624 12h3v1h-3zM628 12h1v1h-1zM631 6h1v1h-1zM633 6h3v1h-3zM631 7h2v1h-2zM636 7h1v1h-1zM631 8h1v1h-1zM636 8h1v1h-1zM631 9h1v1h-1zM636 9h1v1h-1zM631 10h1v1h-1zM636 10h1v1h-1zM631 11h1v1h-1zM636 11h1v1h-1zM631 12h1v1h-1zM636 12h1v1h-1zM644 5h1v1h-1zM640 6h5v1h-5zM639 7h1v1h-1zM643 7h1v1h-1zM639 8h1v1h-1zM643 8h1v1h-1zM640 9h3v1h-3zM639 10h1v1h-1zM639 11h1v1h-1zM640 12h4v1h-4zM639 13h1v1h-1zM644 13h1v1h-1zM639 14h1v1h-1zM644 14h1v1h-1zM640 15h4v1h-4zM648 6h4v1h-4zM647 7h1v1h-1zM652 7h1v1h-1zM647 8h1v1h-1zM648 9h4v1h-4zM652 10h1v1h-1zM647 11h1v1h-1zM652 11h1v1h-1zM648 12h4v1h-4zM660 5h1v1h-1zM656 6h5v1h-5zM655 7h1v1h-1zM659 7h1v1h-1zM655 8h1v1h-1zM659 8h1v1h-1zM656 9h3v1h-3zM655 10h1v1h-1zM655 11h1v1h-1zM656 12h4v1h-4zM655 13h1v1h-1zM660 13h1v1h-1zM655 14h1v1h-1zM660 14h1v1h-1zM656 15h4v1h-4zM664 6h4v1h-4zM663 7h1v1h-1zM668 7h1v1h-1zM663 8h1v1h-1zM668 8h1v1h-1zM663 9h6v1h-6zM663 10h1v1h-1zM663 11h1v1h-1zM664 12h4v1h-4zM671 3h1v1h-1zM671 4h1v1h-1zM671 5h1v1h-1zM671 6h1v1h-1zM673 6h3v1h-3zM671 7h2v1h-2zM676 7h1v1h-1zM671 8h1v1h-1zM676 8h1v1h-1zM671 9h1v1h-1zM676 9h1v1h-1zM671 10h1v1h-1zM676 10h1v1h-1zM671 11h1v1h-1zM676 11h1v1h-1zM671 12h1v1h-1zM676 12h1v1h-1zM680 6h4v1h-4zM679 7h1v1h-1zM684 7h1v1h-1zM684 8h1v1h-1zM680 9h5v1h-5zM679 10h1v1h-1zM684 10h1v1h-1zM679 11h1v1h-1zM683 11h2v1h-2zM680 12h3v1h-3zM684 12h1v1h-1zM688 3h2v1h-2zM689 4h1v1h-1zM689 5h1v1h-1zM689 6h1v1h-1zM689 7h1v1h-1zM689 8h1v1h-1zM689 9h1v1h-1zM689 10h1v1h-1zM689 11h1v1h-1zM687 12h5v1h-5zM697 3h1v1h-1zM697 4h1v1h-1zM695 5h5v1h-5zM697 6h1v1h-1zM697 7h1v1h-1zM697 8h1v1h-1zM697 9h1v1h-1zM697 10h1v1h-1zM697 11h1v1h-1zM700 11h1v1h-1zM698 12h2v1h-2z" fill="#000080"/><path d="M3 406h1v4h-1zM4 409h1v1h-1zM4 405h1v1h-1zM5 409h1v1h-1zM5 405h1v1h-1zM6 406h1v4h-1zM7 409h1v1h-1zM7 405h1v1h-1zM8 409h1v1h-1zM8 405h1v1h-1zM9 409h1v1h-1zM9 405h1v1h-1zM10 406h1v4h-1zM5 403h1v1h-1zM5 400h1v2h-1zM6 402h1v2h-1zM6 399h1v1h-1zM7 403h1v1h-1zM8 403h1v1h-1zM9 403h1v1h-1zM10 403h1v1h-1zM5 397h1v1h-1zM5 393h1v1h-1zM6 397h1v1h-1zM6 393h1v1h-1zM7 397h1v1h-1zM7 393h1v1h-1zM8 397h1v1h-1zM8 393h1v1h-1zM9 397h1v1h-1zM9 393h1v2h-1zM10 395h1v2h-1zM10 393h1v1h-1zM3 390h1v1h-1zM4 390h1v1h-1zM5 388h1v4h-1zM6 390h1v1h-1zM7 390h1v1h-1zM8 390h1v1h-1zM9 390h1v1h-1zM9 387h1v1h-1zM10 388h1v2h-1zM3 384h1v1h-1zM4 384h1v1h-1zM5 382h1v4h-1zM6 384h1v1h-1zM7 384h1v1h-1zM8 384h1v1h-1zM9 384h1v1h-1zM9 381h1v1h-1zM10 382h1v2h-1zM5 376h1v3h-1zM6 379h1v1h-1zM6 375h1v1h-1zM7 379h1v1h-1zM7 375h1v1h-1zM8 379h1v1h-1zM8 375h1v1h-1zM9 379h1v1h-1zM9 375h1v1h-1zM10 376h1v3h-1zM3 370h1v1h-1zM5 370h1v2h-1zM6 370h1v1h-1zM7 370h1v1h-1zM8 370h1v1h-1zM9 370h1v1h-1zM10 370h1v1h-1zM11 373h1v1h-1zM11 370h1v1h-1zM12 371h1v2h-1zM5 364h1v3h-1zM6 363h1v1h-1zM7 363h1v4h-1zM8 367h1v1h-1zM8 363h1v1h-1zM9 367h1v1h-1zM9 363h1v2h-1zM10 365h1v2h-1zM10 363h1v1h-1zM3 361h1v1h-1zM4 361h1v1h-1zM5 361h1v1h-1zM5 358h1v2h-1zM6 360h1v2h-1zM6 357h1v1h-1zM7 361h1v1h-1zM7 357h1v1h-1zM8 361h1v1h-1zM8 357h1v1h-1zM9 361h1v1h-1zM9 357h1v1h-1zM10 361h1v1h-1zM10 357h1v1h-1zM5 355h1v1h-1zM5 352h1v2h-1zM6 354h1v2h-1zM6 351h1v1h-1zM7 355h1v1h-1zM8 355h1v1h-1zM9 355h1v1h-1zM10 355h1v1h-1zM5 346h1v3h-1zM6 349h1v1h-1zM6 345h1v1h-1zM7 345h1v5h-1zM8 349h1v1h-1zM9 349h1v1h-1zM9 345h1v1h-1zM10 346h1v3h-1zM5 340h1v3h-1zM6 343h1v1h-1zM6 339h1v1h-1zM7 341h1v2h-1zM8 340h1v1h-1zM9 343h1v1h-1zM9 339h1v1h-1zM10 340h1v3h-1zM5 333h1v4h-1zM6 337h1v1h-1zM6 334h1v1h-1zM7 337h1v1h-1zM7 334h1v1h-1zM8 335h1v2h-1zM9 337h1v1h-1zM10 334h1v3h-1zM11 337h1v1h-1zM11 333h1v1h-1zM12 334h1v3h-1zM5 328h1v3h-1zM6 331h1v1h-1zM6 327h1v1h-1zM7 327h1v5h-1zM8 331h1v1h-1zM9 331h1v1h-1zM9 327h1v1h-1zM10 328h1v3h-1zM3 325h1v1h-1zM4 325h1v1h-1zM5 325h1v1h-1zM5 322h1v2h-1zM6 324h1v2h-1zM6 321h1v1h-1zM7 325h1v1h-1zM7 321h1v1h-1zM8 325h1v1h-1zM8 321h1v1h-1zM9 325h1v1h-1zM9 321h1v1h-1zM10 325h1v1h-1zM10 321h1v1h-1zM5 316h1v3h-1zM6 315h1v1h-1zM7 315h1v4h-1zM8 319h1v1h-1zM8 315h1v1h-1zM9 319h1v1h-1zM9 315h1v2h-1zM10 317h1v2h-1zM10 315h1v1h-1zM3 311h1v2h-1zM4 311h1v1h-1zM5 311h1v1h-1zM6 311h1v1h-1zM7 311h1v1h-1zM8 311h1v1h-1zM9 311h1v1h-1zM10 310h1v3h-1zM3 306h1v1h-1zM4 306h1v1h-1zM5 304h1v4h-1zM6 306h1v1h-1zM7 306h1v1h-1zM8 306h1v1h-1zM9 306h1v1h-1zM9 303h1v1h-1zM10 304h1v2h-1zM5 291h1v5h-1zM6 292h1v1h-1zM7 293h1v1h-1zM8 294h1v1h-1zM9 295h1v1h-1zM10 291h1v5h-1zM5 289h1v1h-1zM5 285h1v1h-1zM6 289h1v1h-1zM6 285h1v1h-1zM7 289h1v1h-1zM7 285h1v1h-1zM8 289h1v1h-1zM8 285h1v1h-1zM9 289h1v1h-1zM9 285h1v2h-1zM10 287h1v2h-1zM10 285h1v1h-1zM5 282h1v2h-1zM5 280h1v1h-1zM6 283h1v1h-1zM6 281h1v1h-1zM6 279h1v1h-1zM7 283h1v1h-1zM7 281h1v1h-1zM7 279h1v1h-1zM8 283h1v1h-1zM8 281h1v1h-1zM8 279h1v1h-1zM9 283h1v1h-1zM9 281h1v1h-1zM9 279h1v1h-1zM10 283h1v1h-1zM10 279h1v1h-1zM3 268h1v3h-1zM4 271h1v1h-1zM4 267h1v1h-1zM5 271h1v1h-1zM6 268h1v3h-1zM7 267h1v1h-1zM8 267h1v1h-1zM9 271h1v1h-1zM9 267h1v1h-1zM10 268h1v3h-1zM3 264h1v1h-1zM4 264h1v1h-1zM5 262h1v4h-1zM6 264h1v1h-1zM7 264h1v1h-1zM8 264h1v1h-1zM9 264h1v1h-1zM9 261h1v1h-1zM10 262h1v2h-1zM3 257h1v1h-1zM5 257h1v2h-1zM6 257h1v1h-1zM7 257h1v1h-1zM8 257h1v1h-1zM9 257h1v1h-1zM10 256h1v3h-1zM5 250h1v3h-1zM6 253h1v1h-1zM6 249h1v1h-1zM7 253h1v1h-1zM8 253h1v1h-1zM9 253h1v1h-1zM9 249h1v1h-1zM10 250h1v3h-1zM3 247h1v1h-1zM4 247h1v1h-1zM5 247h1v1h-1zM5 244h1v2h-1zM6 246h1v2h-1zM6 243h1v1h-1zM7 247h1v1h-1zM7 243h1v1h-1zM8 247h1v1h-1zM8 243h1v1h-1zM9 247h1v1h-1zM9 243h1v1h-1zM10 247h1v1h-1zM10 243h1v1h-1zM3 240h1v1h-1zM4 240h1v1h-1zM5 238h1v4h-1zM6 240h1v1h-1zM7 240h1v1h-1zM8 240h1v1h-1zM9 240h1v1h-1zM9 237h1v1h-1zM10 238h1v2h-1zM5 232h1v3h-1zM6 231h1v1h-1zM7 231h1v4h-1zM8 235h1v1h-1zM8 231h1v1h-1zM9 235h1v1h-1zM9 231h1v2h-1zM10 233h1v2h-1zM10 231h1v1h-1zM5 225h1v4h-1zM6 229h1v1h-1zM6 226h1v1h-1zM7 229h1v1h-1zM7 226h1v1h-1zM8 227h1v2h-1zM9 229h1v1h-1zM10 226h1v3h-1zM11 229h1v1h-1zM11 225h1v1h-1zM12 226h1v3h-1zM3 214h1v3h-1zM4 217h1v1h-1zM4 213h1v1h-1zM5 213h1v1h-1zM6 214h1v2h-1zM7 213h1v1h-1zM8 213h1v1h-1zM9 217h1v1h-1zM9 213h1v1h-1zM10 214h1v3h-1zM3 209h1v1h-1zM4 209h1v2h-1zM5 211h1v1h-1zM5 209h1v1h-1zM6 209h1v1h-1zM7 209h1v1h-1zM8 209h1v1h-1zM9 209h1v1h-1zM10 207h1v5h-1zM9 202h1v2h-1zM10 202h1v2h-1zM3 197h1v1h-1zM4 197h1v2h-1zM5 199h1v1h-1zM5 197h1v1h-1zM6 197h1v1h-1zM7 197h1v1h-1zM8 197h1v1h-1zM9 197h1v1h-1zM10 195h1v5h-1zM3 191h1v1h-1zM4 192h1v1h-1zM4 190h1v1h-1zM5 193h1v1h-1zM5 189h1v1h-1zM6 193h1v1h-1zM6 189h1v1h-1zM7 193h1v1h-1zM7 189h1v1h-1zM8 193h1v1h-1zM8 189h1v1h-1zM9 192h1v1h-1zM9 190h1v1h-1zM10 191h1v1h-1zM9 184h1v2h-1zM10 184h1v2h-1z" fill="#000080"/></svg></body></html>
